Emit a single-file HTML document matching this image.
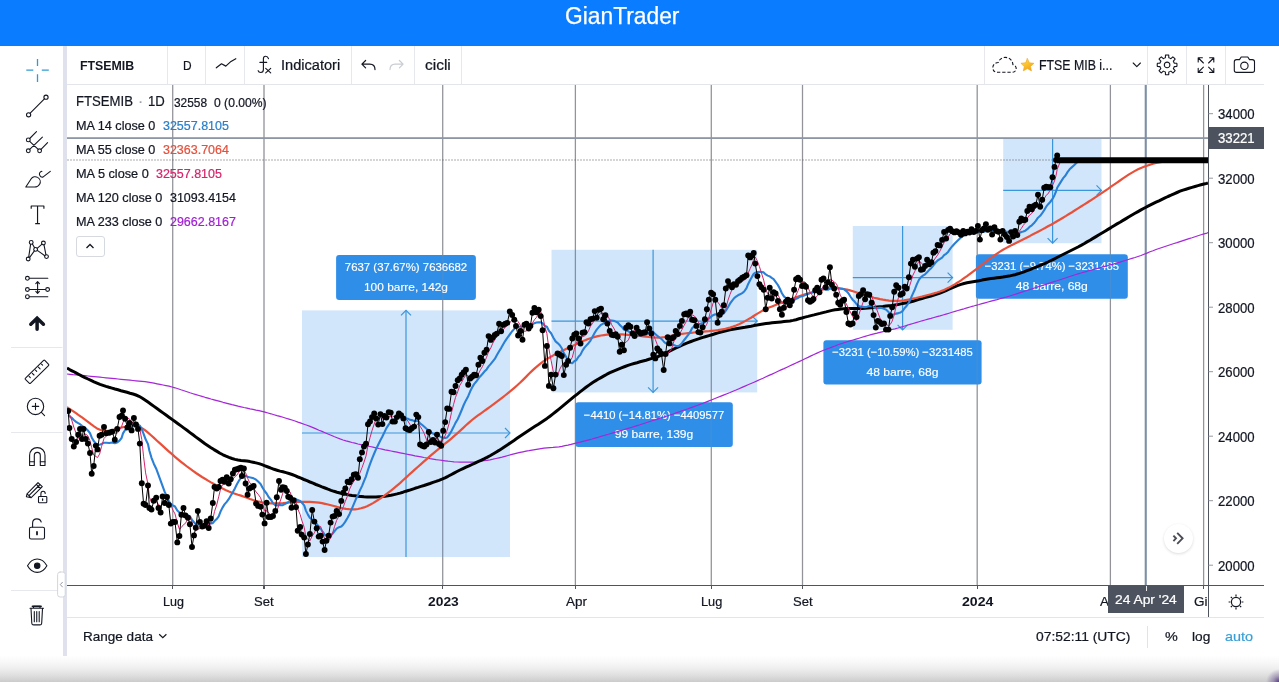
<!DOCTYPE html>
<html lang="it"><head><meta charset="utf-8"><title>GianTrader</title>
<style>
*{box-sizing:border-box;margin:0;padding:0}
html,body{width:1279px;height:682px;overflow:hidden;background:#fff}
body{position:relative;font-family:"Liberation Sans","DejaVu Sans",sans-serif;color:#131722}
.abs{position:absolute}
.t{position:absolute;white-space:nowrap;line-height:1;transform-origin:0 0;-webkit-text-stroke:0.22px currentColor}
#hdr{left:0;top:0;width:1279px;height:45.5px;background:#0a7cff}
#title{-webkit-text-stroke:0}
#sep{left:62.6px;top:45.5px;width:4.4px;height:610px;background:#dfe2ec}
.vsep{position:absolute;top:46px;width:1px;height:38px;background:#e6e8ee}
.hline{position:absolute;height:1px;background:#e3e5ea}
svg text.lb{font-family:"Liberation Sans",sans-serif;font-size:11.8px;fill:#fff;stroke:#fff;stroke-width:0.15px}
#bottomshade{left:0;top:650px;width:1279px;height:32px;background:radial-gradient(circle at 100% 100%,rgba(70,40,120,0.85) 0,rgba(70,40,120,0.35) 6px,rgba(70,40,120,0) 13px),linear-gradient(rgba(255,255,255,0) 0,rgba(255,255,255,0) 17%,#f8f8f8 38%,#ededed 60%,#dfdfdf 79%,#d3d3d3 92%,#cbcbcb 100%)}
</style></head><body>
<div id="hdr" class="abs"></div>
<div id="sep" class="abs"></div>
<svg id="chart" width="1279" height="682" viewBox="0 0 1279 682" style="position:absolute;left:0;top:0">
<defs><clipPath id="cp"><rect x="67" y="85" width="1141" height="500.5"/></clipPath></defs>
<g clip-path="url(#cp)">
<rect x="172.1" y="85" width="1.2" height="501" fill="#94969c"/>
<rect x="263.4" y="85" width="1.2" height="501" fill="#94969c"/>
<rect x="442.09999999999997" y="85" width="1.2" height="501" fill="#94969c"/>
<rect x="574.8" y="85" width="1.2" height="501" fill="#94969c"/>
<rect x="710.6999999999999" y="85" width="1.2" height="501" fill="#94969c"/>
<rect x="801.9" y="85" width="1.2" height="501" fill="#94969c"/>
<rect x="976.6" y="85" width="1.2" height="501" fill="#94969c"/>
<rect x="1109.8000000000002" y="85" width="1.2" height="501" fill="#94969c"/>
<rect x="1203.0" y="85" width="1.2" height="501" fill="#94969c"/>
<rect x="302" y="310.4" width="208" height="246.60000000000002" fill="rgba(40,140,235,0.215)"/>
<g stroke="#3a96dc" stroke-width="1.2" fill="none">
<path d="M406 310.4 V557"/>
<path d="M302 433 H510"/>
<path d="M401 315.4 L406 310.4 L411 315.4"/>
<path d="M505 428 L510 433 L505 438"/>
</g>
<rect x="551.5" y="249.8" width="205.70000000000005" height="142.59999999999997" fill="rgba(40,140,235,0.215)"/>
<g stroke="#3a96dc" stroke-width="1.2" fill="none">
<path d="M653.1 249.8 V392.4"/>
<path d="M551.5 321.1 H757.2"/>
<path d="M648.1 387.4 L653.1 392.4 L658.1 387.4"/>
<path d="M752.2 316.1 L757.2 321.1 L752.2 326.1"/>
</g>
<rect x="852.8" y="226" width="99.80000000000007" height="103.80000000000001" fill="rgba(40,140,235,0.215)"/>
<g stroke="#3a96dc" stroke-width="1.2" fill="none">
<path d="M902.6 226 V329.8"/>
<path d="M852.8 277.6 H952.6"/>
<path d="M897.6 324.8 L902.6 329.8 L907.6 324.8"/>
<path d="M947.6 272.6 L952.6 277.6 L947.6 282.6"/>
</g>
<rect x="1003.2" y="138.8" width="98.29999999999995" height="104.39999999999998" fill="rgba(40,140,235,0.215)"/>
<g stroke="#3a96dc" stroke-width="1.2" fill="none">
<path d="M1052.6 138.8 V243.2"/>
<path d="M1003.2 190.4 H1101.5"/>
<path d="M1047.6 238.2 L1052.6 243.2 L1057.6 238.2"/>
<path d="M1096.5 185.4 L1101.5 190.4 L1096.5 195.4"/>
</g>
<rect x="336.1" y="255" width="139.79999999999995" height="44.89999999999998" rx="3" fill="#2f8fe8"/>
<text x="406.0" y="271.2" text-anchor="middle" class="lb" textLength="122.4" lengthAdjust="spacingAndGlyphs">7637 (37.67%) 7636682</text>
<text x="406.0" y="291.1" text-anchor="middle" class="lb" textLength="84" lengthAdjust="spacingAndGlyphs">100 barre, 142g</text>
<rect x="575.3" y="402.3" width="157.5" height="44.599999999999966" rx="3" fill="#2f8fe8"/>
<text x="654.05" y="418.5" text-anchor="middle" class="lb" textLength="140.4" lengthAdjust="spacingAndGlyphs">−4410 (−14.81%) −4409577</text>
<text x="654.05" y="438.40000000000003" text-anchor="middle" class="lb" textLength="78.4" lengthAdjust="spacingAndGlyphs">99 barre, 139g</text>
<rect x="823.4" y="340.2" width="158.20000000000005" height="44.400000000000034" rx="3" fill="#2f8fe8"/>
<text x="902.5" y="356.4" text-anchor="middle" class="lb" textLength="140.6" lengthAdjust="spacingAndGlyphs">−3231 (−10.59%) −3231485</text>
<text x="902.5" y="376.3" text-anchor="middle" class="lb" textLength="72" lengthAdjust="spacingAndGlyphs">48 barre, 68g</text>
<rect x="975.9" y="254.2" width="151.89999999999998" height="44.60000000000002" rx="3" fill="#2f8fe8"/>
<text x="1051.85" y="270.4" text-anchor="middle" class="lb" textLength="134.2" lengthAdjust="spacingAndGlyphs">−3231 (−9.74%) −3231485</text>
<text x="1051.85" y="290.3" text-anchor="middle" class="lb" textLength="72" lengthAdjust="spacingAndGlyphs">48 barre, 68g</text>
<rect x="172.04999999999998" y="85" width="1.3" height="501" fill="#8d8f94" opacity="0.22"/>
<rect x="263.35" y="85" width="1.3" height="501" fill="#8d8f94" opacity="0.22"/>
<rect x="442.05" y="85" width="1.3" height="501" fill="#8d8f94" opacity="0.22"/>
<rect x="574.75" y="85" width="1.3" height="501" fill="#8d8f94" opacity="0.22"/>
<rect x="710.65" y="85" width="1.3" height="501" fill="#8d8f94" opacity="0.22"/>
<rect x="801.85" y="85" width="1.3" height="501" fill="#8d8f94" opacity="0.22"/>
<rect x="976.5500000000001" y="85" width="1.3" height="501" fill="#8d8f94" opacity="0.22"/>
<rect x="1109.75" y="85" width="1.3" height="501" fill="#8d8f94" opacity="0.22"/>
<rect x="1202.9499999999998" y="85" width="1.3" height="501" fill="#8d8f94" opacity="0.22"/>
<rect x="67" y="137.2" width="1141" height="1.8" fill="#8c96a5"/>
<rect x="1144.7" y="85" width="2.1" height="501" fill="#7d8ea6"/>
<path d="M67.5 160 H1057" stroke="#5a5a5a" stroke-width="1.2" stroke-dasharray="1 2" fill="none"/>
<path d="M67.0 374.0 L70.0 374.3 L73.0 374.6 L76.0 374.8 L79.0 375.1 L82.0 375.4 L85.0 375.7 L88.0 376.0 L91.0 376.3 L94.0 376.6 L97.0 376.9 L100.0 377.2 L103.0 377.5 L106.0 377.8 L109.0 378.1 L112.0 378.4 L115.0 378.7 L118.0 379.0 L121.0 379.3 L124.0 379.6 L127.0 379.9 L130.0 380.2 L133.0 380.5 L136.0 380.8 L139.0 381.1 L142.0 381.4 L145.0 381.7 L148.0 382.1 L151.0 382.6 L154.0 383.2 L157.0 383.8 L160.0 384.4 L163.0 385.0 L166.0 385.6 L169.0 386.2 L172.0 387.0 L175.0 387.8 L178.0 388.7 L181.0 389.8 L184.0 390.8 L187.0 391.8 L190.0 392.8 L193.0 393.7 L196.0 394.6 L199.0 395.5 L202.0 396.4 L205.0 397.3 L208.0 398.1 L211.0 399.0 L214.0 399.8 L217.0 400.6 L220.0 401.4 L223.0 402.3 L226.0 403.1 L229.0 403.9 L232.0 404.7 L235.0 405.4 L238.0 406.2 L241.0 406.8 L244.0 407.5 L247.0 408.1 L250.0 408.8 L253.0 409.4 L256.0 410.1 L259.0 410.7 L262.0 411.4 L265.0 412.2 L268.0 413.0 L271.0 413.8 L274.0 414.7 L277.0 415.6 L280.0 416.4 L283.0 417.3 L286.0 418.2 L289.0 419.1 L292.0 420.0 L295.0 421.0 L298.0 422.1 L301.0 423.1 L304.0 424.2 L307.0 425.3 L310.0 426.4 L313.0 427.6 L316.0 428.9 L319.0 430.2 L322.0 431.4 L325.0 432.7 L328.0 434.0 L331.0 435.2 L334.0 436.5 L337.0 437.7 L340.0 438.9 L343.0 440.0 L346.0 440.9 L349.0 441.7 L352.0 442.5 L355.0 443.2 L358.0 444.0 L361.0 444.7 L364.0 445.3 L367.0 445.9 L370.0 446.5 L373.0 447.1 L376.0 447.8 L379.0 448.5 L382.0 449.1 L385.0 449.8 L388.0 450.4 L391.0 451.0 L394.0 451.6 L397.0 452.2 L400.0 452.8 L403.0 453.4 L406.0 454.0 L409.0 454.6 L412.0 455.2 L415.0 455.8 L418.0 456.3 L421.0 456.9 L424.0 457.5 L427.0 458.0 L430.0 458.6 L433.0 459.1 L436.0 459.6 L439.0 460.0 L442.0 460.4 L445.0 460.8 L448.0 461.2 L451.0 461.5 L454.0 461.8 L457.0 462.0 L460.0 462.1 L463.0 462.1 L466.0 462.2 L469.0 462.2 L472.0 462.1 L475.0 461.9 L478.0 461.5 L481.0 461.1 L484.0 460.7 L487.0 460.3 L490.0 459.8 L493.0 459.2 L496.0 458.5 L499.0 457.8 L502.0 457.1 L505.0 456.3 L508.0 455.5 L511.0 454.7 L514.0 453.9 L517.0 453.1 L520.0 452.4 L523.0 451.8 L526.0 451.2 L529.0 450.7 L532.0 450.1 L535.0 449.6 L538.0 449.1 L541.0 448.6 L544.0 448.1 L547.0 447.8 L550.0 447.6 L553.0 447.4 L556.0 447.1 L559.0 446.8 L562.0 446.3 L565.0 445.7 L568.0 445.1 L571.0 444.4 L574.0 443.6 L577.0 442.9 L580.0 442.2 L583.0 441.4 L586.0 440.6 L589.0 439.8 L592.0 439.0 L595.0 438.1 L598.0 437.3 L601.0 436.4 L604.0 435.5 L607.0 434.7 L610.0 433.8 L613.0 432.9 L616.0 432.0 L619.0 431.1 L622.0 430.2 L625.0 429.3 L628.0 428.4 L631.0 427.5 L634.0 426.6 L637.0 425.6 L640.0 424.7 L643.0 423.7 L646.0 422.8 L649.0 421.8 L652.0 420.8 L655.0 419.9 L658.0 418.9 L661.0 417.9 L664.0 417.0 L667.0 416.0 L670.0 415.0 L673.0 414.0 L676.0 412.9 L679.0 411.9 L682.0 410.8 L685.0 409.7 L688.0 408.7 L691.0 407.6 L694.0 406.6 L697.0 405.5 L700.0 404.4 L703.0 403.3 L706.0 402.1 L709.0 400.9 L712.0 399.7 L715.0 398.5 L718.0 397.3 L721.0 396.1 L724.0 394.9 L727.0 393.7 L730.0 392.5 L733.0 391.2 L736.0 390.0 L739.0 388.7 L742.0 387.4 L745.0 386.1 L748.0 384.8 L751.0 383.5 L754.0 382.2 L757.0 380.9 L760.0 379.5 L763.0 378.2 L766.0 376.8 L769.0 375.4 L772.0 374.1 L775.0 372.7 L778.0 371.3 L781.0 369.9 L784.0 368.6 L787.0 367.2 L790.0 365.8 L793.0 364.4 L796.0 363.0 L799.0 361.6 L802.0 360.2 L805.0 358.8 L808.0 357.4 L811.0 355.9 L814.0 354.5 L817.0 353.1 L820.0 351.7 L823.0 350.5 L826.0 349.4 L829.0 348.2 L832.0 347.1 L835.0 346.0 L838.0 344.8 L841.0 343.8 L844.0 342.8 L847.0 341.8 L850.0 340.9 L853.0 340.0 L856.0 339.1 L859.0 338.2 L862.0 337.3 L865.0 336.4 L868.0 335.5 L871.0 334.6 L874.0 333.8 L877.0 333.1 L880.0 332.3 L883.0 331.6 L886.0 330.9 L889.0 330.2 L892.0 329.5 L895.0 328.8 L898.0 328.0 L901.0 327.1 L904.0 326.2 L907.0 325.3 L910.0 324.4 L913.0 323.5 L916.0 322.6 L919.0 321.7 L922.0 320.8 L925.0 320.0 L928.0 319.2 L931.0 318.4 L934.0 317.5 L937.0 316.7 L940.0 315.9 L943.0 315.0 L946.0 314.1 L949.0 313.2 L952.0 312.3 L955.0 311.4 L958.0 310.5 L961.0 309.6 L964.0 308.8 L967.0 307.9 L970.0 307.0 L973.0 306.2 L976.0 305.3 L979.0 304.5 L982.0 303.6 L985.0 302.8 L988.0 302.0 L991.0 301.2 L994.0 300.4 L997.0 299.6 L1000.0 298.7 L1003.0 297.9 L1006.0 297.1 L1009.0 296.2 L1012.0 295.3 L1015.0 294.4 L1018.0 293.4 L1021.0 292.4 L1024.0 291.4 L1027.0 290.5 L1030.0 289.5 L1033.0 288.5 L1036.0 287.5 L1039.0 286.5 L1042.0 285.5 L1045.0 284.6 L1048.0 283.6 L1051.0 282.6 L1054.0 281.6 L1057.0 280.7 L1060.0 279.7 L1063.0 278.7 L1066.0 277.8 L1069.0 276.8 L1072.0 275.8 L1075.0 274.8 L1078.0 273.9 L1081.0 273.0 L1084.0 272.1 L1087.0 271.3 L1090.0 270.4 L1093.0 269.6 L1096.0 268.8 L1099.0 268.0 L1102.0 267.1 L1105.0 266.3 L1108.0 265.5 L1111.0 264.6 L1114.0 263.8 L1117.0 262.9 L1120.0 262.1 L1123.0 261.1 L1126.0 260.2 L1129.0 259.3 L1132.0 258.4 L1135.0 257.5 L1138.0 256.5 L1141.0 255.5 L1144.0 254.3 L1147.0 253.1 L1150.0 251.8 L1153.0 250.7 L1156.0 249.5 L1159.0 248.5 L1162.0 247.5 L1165.0 246.5 L1168.0 245.5 L1171.0 244.5 L1174.0 243.5 L1177.0 242.6 L1180.0 241.6 L1183.0 240.6 L1186.0 239.6 L1189.0 238.6 L1192.0 237.7 L1195.0 236.7 L1198.0 235.7 L1201.0 234.8 L1204.0 233.9 L1207.0 233.1 L1208.0 232.5" stroke="#a526d8" stroke-width="1.2" fill="none" stroke-linejoin="round"/>
<path d="M67.0 368.0 L70.0 369.8 L73.0 371.3 L76.0 372.9 L79.0 374.5 L82.0 376.1 L85.0 377.6 L88.0 379.0 L91.0 380.4 L94.0 381.8 L97.0 383.1 L100.0 384.4 L103.0 385.4 L106.0 386.4 L109.0 387.3 L112.0 388.1 L115.0 389.0 L118.0 389.8 L121.0 390.7 L124.0 391.5 L127.0 392.3 L130.0 393.2 L133.0 394.0 L136.0 395.0 L139.0 396.3 L142.0 398.0 L145.0 400.0 L148.0 402.1 L151.0 404.2 L154.0 406.4 L157.0 408.5 L160.0 410.7 L163.0 412.9 L166.0 415.0 L169.0 417.2 L172.0 419.4 L175.0 421.5 L178.0 423.7 L181.0 425.9 L184.0 428.1 L187.0 430.3 L190.0 432.6 L193.0 434.8 L196.0 437.1 L199.0 439.3 L202.0 441.5 L205.0 443.7 L208.0 445.7 L211.0 447.7 L214.0 449.6 L217.0 451.4 L220.0 453.2 L223.0 454.8 L226.0 456.2 L229.0 457.4 L232.0 458.5 L235.0 459.4 L238.0 460.0 L241.0 460.4 L244.0 460.7 L247.0 461.1 L250.0 461.6 L253.0 462.2 L256.0 462.9 L259.0 463.6 L262.0 464.6 L265.0 465.8 L268.0 467.0 L271.0 468.2 L274.0 469.3 L277.0 470.2 L280.0 471.1 L283.0 471.8 L286.0 472.6 L289.0 473.5 L292.0 474.5 L295.0 475.7 L298.0 477.0 L301.0 478.2 L304.0 479.5 L307.0 480.7 L310.0 482.0 L313.0 483.2 L316.0 484.5 L319.0 485.7 L322.0 486.9 L325.0 488.0 L328.0 489.2 L331.0 490.3 L334.0 491.3 L337.0 492.2 L340.0 493.0 L343.0 493.7 L346.0 494.3 L349.0 494.9 L352.0 495.4 L355.0 495.8 L358.0 496.2 L361.0 496.5 L364.0 496.8 L367.0 496.9 L370.0 497.0 L373.0 497.0 L376.0 497.0 L379.0 496.8 L382.0 496.6 L385.0 496.3 L388.0 495.8 L391.0 495.3 L394.0 494.6 L397.0 493.9 L400.0 493.1 L403.0 492.2 L406.0 491.2 L409.0 490.3 L412.0 489.3 L415.0 488.3 L418.0 487.4 L421.0 486.4 L424.0 485.5 L427.0 484.5 L430.0 483.5 L433.0 482.4 L436.0 481.4 L439.0 480.3 L442.0 479.1 L445.0 477.8 L448.0 476.3 L451.0 474.7 L454.0 473.1 L457.0 471.5 L460.0 470.0 L463.0 468.6 L466.0 467.2 L469.0 465.9 L472.0 464.5 L475.0 463.1 L478.0 461.7 L481.0 460.3 L484.0 458.9 L487.0 457.4 L490.0 455.8 L493.0 454.0 L496.0 452.2 L499.0 450.4 L502.0 448.5 L505.0 446.5 L508.0 444.5 L511.0 442.4 L514.0 440.4 L517.0 438.3 L520.0 436.2 L523.0 434.2 L526.0 432.2 L529.0 430.2 L532.0 428.2 L535.0 426.3 L538.0 424.4 L541.0 422.4 L544.0 420.4 L547.0 418.4 L550.0 416.2 L553.0 413.9 L556.0 411.5 L559.0 409.1 L562.0 406.7 L565.0 404.2 L568.0 401.7 L571.0 399.2 L574.0 396.7 L577.0 394.3 L580.0 391.9 L583.0 389.6 L586.0 387.3 L589.0 385.1 L592.0 383.0 L595.0 381.1 L598.0 379.3 L601.0 377.6 L604.0 375.9 L607.0 374.2 L610.0 372.7 L613.0 371.3 L616.0 370.1 L619.0 368.9 L622.0 367.7 L625.0 366.5 L628.0 365.4 L631.0 364.4 L634.0 363.5 L637.0 362.7 L640.0 361.8 L643.0 361.0 L646.0 360.2 L649.0 359.3 L652.0 358.4 L655.0 357.5 L658.0 356.5 L661.0 355.3 L664.0 354.0 L667.0 352.5 L670.0 350.9 L673.0 349.4 L676.0 348.0 L679.0 346.6 L682.0 345.2 L685.0 343.9 L688.0 342.7 L691.0 341.5 L694.0 340.4 L697.0 339.3 L700.0 338.3 L703.0 337.4 L706.0 336.5 L709.0 335.6 L712.0 334.7 L715.0 333.8 L718.0 332.9 L721.0 332.0 L724.0 331.2 L727.0 330.5 L730.0 329.8 L733.0 329.3 L736.0 328.8 L739.0 328.3 L742.0 327.8 L745.0 327.3 L748.0 326.7 L751.0 326.2 L754.0 325.6 L757.0 325.1 L760.0 324.6 L763.0 324.1 L766.0 323.6 L769.0 323.2 L772.0 322.8 L775.0 322.5 L778.0 322.2 L781.0 321.9 L784.0 321.6 L787.0 321.3 L790.0 321.0 L793.0 320.4 L796.0 319.7 L799.0 318.8 L802.0 318.0 L805.0 317.1 L808.0 316.4 L811.0 315.6 L814.0 314.9 L817.0 314.1 L820.0 313.4 L823.0 312.6 L826.0 311.9 L829.0 311.1 L832.0 310.4 L835.0 309.8 L838.0 309.4 L841.0 309.0 L844.0 308.8 L847.0 308.6 L850.0 308.4 L853.0 308.4 L856.0 308.4 L859.0 308.4 L862.0 308.4 L865.0 308.2 L868.0 308.0 L871.0 307.8 L874.0 307.5 L877.0 307.1 L880.0 306.8 L883.0 306.5 L886.0 306.1 L889.0 305.7 L892.0 305.4 L895.0 304.9 L898.0 304.5 L901.0 303.9 L904.0 303.3 L907.0 302.7 L910.0 302.0 L913.0 301.2 L916.0 300.3 L919.0 299.4 L922.0 298.5 L925.0 297.6 L928.0 296.8 L931.0 296.0 L934.0 295.1 L937.0 294.1 L940.0 293.0 L943.0 291.8 L946.0 290.5 L949.0 289.2 L952.0 287.8 L955.0 286.6 L958.0 285.4 L961.0 284.4 L964.0 283.5 L967.0 282.8 L970.0 282.2 L973.0 281.7 L976.0 281.2 L979.0 280.7 L982.0 280.1 L985.0 279.6 L988.0 279.1 L991.0 278.6 L994.0 278.2 L997.0 277.8 L1000.0 277.4 L1003.0 277.0 L1006.0 276.5 L1009.0 276.1 L1012.0 275.4 L1015.0 274.7 L1018.0 273.8 L1021.0 272.8 L1024.0 271.8 L1027.0 270.7 L1030.0 269.6 L1033.0 268.4 L1036.0 267.2 L1039.0 265.9 L1042.0 264.7 L1045.0 263.4 L1048.0 262.0 L1051.0 260.5 L1054.0 259.1 L1057.0 257.5 L1060.0 256.0 L1063.0 254.5 L1066.0 253.0 L1069.0 251.5 L1072.0 250.0 L1075.0 248.5 L1078.0 247.0 L1081.0 245.4 L1084.0 243.7 L1087.0 241.9 L1090.0 240.2 L1093.0 238.4 L1096.0 236.6 L1099.0 234.8 L1102.0 233.0 L1105.0 231.2 L1108.0 229.4 L1111.0 227.6 L1114.0 225.7 L1117.0 223.9 L1120.0 222.2 L1123.0 220.4 L1126.0 218.6 L1129.0 216.8 L1132.0 215.0 L1135.0 213.3 L1138.0 211.6 L1141.0 209.9 L1144.0 208.3 L1147.0 206.7 L1150.0 205.2 L1153.0 203.7 L1156.0 202.2 L1159.0 200.8 L1162.0 199.3 L1165.0 197.9 L1168.0 196.5 L1171.0 195.2 L1174.0 193.8 L1177.0 192.5 L1180.0 191.2 L1183.0 190.1 L1186.0 189.2 L1189.0 188.3 L1192.0 187.4 L1195.0 186.5 L1198.0 185.6 L1201.0 184.8 L1204.0 184.0 L1207.0 183.4 L1208.0 182.8" stroke="#000" stroke-width="3.0" fill="none" stroke-linejoin="round"/>
<path d="M67.0 407.0 L70.0 409.3 L73.0 411.1 L76.0 413.2 L79.0 415.3 L82.0 417.4 L85.0 419.6 L88.0 421.8 L91.0 424.2 L94.0 426.4 L97.0 428.4 L100.0 429.8 L103.0 430.5 L106.0 430.8 L109.0 430.6 L112.0 430.2 L115.0 429.4 L118.0 428.4 L121.0 427.6 L124.0 427.0 L127.0 426.6 L130.0 426.4 L133.0 426.3 L136.0 426.5 L139.0 427.1 L142.0 428.3 L145.0 430.2 L148.0 432.6 L151.0 435.3 L154.0 437.9 L157.0 440.7 L160.0 443.4 L163.0 446.1 L166.0 448.9 L169.0 451.6 L172.0 454.2 L175.0 456.8 L178.0 459.3 L181.0 461.8 L184.0 464.2 L187.0 466.5 L190.0 468.7 L193.0 470.9 L196.0 473.0 L199.0 475.0 L202.0 477.0 L205.0 478.8 L208.0 480.6 L211.0 482.4 L214.0 484.0 L217.0 485.6 L220.0 487.2 L223.0 488.7 L226.0 490.2 L229.0 491.5 L232.0 492.7 L235.0 493.7 L238.0 494.7 L241.0 495.6 L244.0 496.7 L247.0 497.8 L250.0 499.0 L253.0 500.0 L256.0 500.9 L259.0 501.7 L262.0 502.3 L265.0 502.8 L268.0 503.2 L271.0 503.3 L274.0 503.4 L277.0 503.4 L280.0 503.3 L283.0 503.1 L286.0 502.8 L289.0 502.5 L292.0 502.3 L295.0 502.1 L298.0 502.0 L301.0 501.9 L304.0 501.8 L307.0 501.8 L310.0 501.9 L313.0 502.1 L316.0 502.3 L319.0 502.7 L322.0 503.2 L325.0 503.8 L328.0 504.5 L331.0 505.2 L334.0 506.0 L337.0 506.9 L340.0 507.7 L343.0 508.3 L346.0 508.8 L349.0 509.1 L352.0 509.3 L355.0 509.3 L358.0 509.0 L361.0 508.3 L364.0 507.4 L367.0 506.2 L370.0 504.7 L373.0 503.1 L376.0 501.3 L379.0 499.4 L382.0 497.4 L385.0 495.2 L388.0 492.9 L391.0 490.6 L394.0 488.2 L397.0 485.7 L400.0 483.1 L403.0 480.3 L406.0 477.6 L409.0 474.8 L412.0 472.1 L415.0 469.4 L418.0 466.7 L421.0 464.1 L424.0 461.4 L427.0 458.8 L430.0 456.2 L433.0 453.6 L436.0 451.1 L439.0 448.6 L442.0 446.1 L445.0 443.7 L448.0 441.3 L451.0 438.8 L454.0 436.2 L457.0 433.6 L460.0 430.9 L463.0 428.1 L466.0 425.3 L469.0 422.6 L472.0 420.0 L475.0 417.6 L478.0 415.4 L481.0 413.3 L484.0 411.2 L487.0 409.0 L490.0 406.8 L493.0 404.6 L496.0 402.4 L499.0 400.1 L502.0 397.8 L505.0 395.5 L508.0 393.1 L511.0 390.6 L514.0 388.1 L517.0 385.5 L520.0 382.8 L523.0 379.9 L526.0 376.9 L529.0 373.8 L532.0 370.9 L535.0 368.1 L538.0 365.6 L541.0 363.2 L544.0 361.0 L547.0 359.0 L550.0 357.2 L553.0 355.6 L556.0 354.1 L559.0 352.6 L562.0 351.1 L565.0 349.6 L568.0 348.1 L571.0 346.7 L574.0 345.2 L577.0 343.8 L580.0 342.4 L583.0 341.1 L586.0 339.9 L589.0 338.8 L592.0 337.8 L595.0 336.9 L598.0 336.1 L601.0 335.5 L604.0 335.1 L607.0 334.7 L610.0 334.5 L613.0 334.3 L616.0 334.3 L619.0 334.3 L622.0 334.4 L625.0 334.6 L628.0 334.8 L631.0 335.0 L634.0 335.3 L637.0 335.6 L640.0 336.0 L643.0 336.3 L646.0 336.6 L649.0 337.0 L652.0 337.3 L655.0 337.5 L658.0 337.6 L661.0 337.5 L664.0 337.1 L667.0 336.6 L670.0 336.0 L673.0 335.4 L676.0 334.9 L679.0 334.4 L682.0 333.9 L685.0 333.5 L688.0 333.1 L691.0 332.8 L694.0 332.5 L697.0 332.2 L700.0 331.9 L703.0 331.6 L706.0 331.3 L709.0 331.1 L712.0 330.8 L715.0 330.5 L718.0 330.2 L721.0 329.7 L724.0 329.2 L727.0 328.4 L730.0 327.6 L733.0 326.6 L736.0 325.5 L739.0 324.2 L742.0 322.7 L745.0 321.1 L748.0 319.4 L751.0 317.7 L754.0 315.8 L757.0 313.9 L760.0 312.1 L763.0 310.4 L766.0 308.9 L769.0 307.6 L772.0 306.4 L775.0 305.2 L778.0 304.0 L781.0 302.9 L784.0 301.7 L787.0 300.6 L790.0 299.5 L793.0 298.4 L796.0 297.3 L799.0 296.3 L802.0 295.3 L805.0 294.4 L808.0 293.6 L811.0 292.8 L814.0 291.9 L817.0 291.1 L820.0 290.3 L823.0 289.5 L826.0 288.9 L829.0 288.5 L832.0 288.2 L835.0 288.1 L838.0 288.2 L841.0 288.6 L844.0 289.0 L847.0 289.6 L850.0 290.4 L853.0 291.3 L856.0 292.2 L859.0 293.3 L862.0 294.3 L865.0 295.2 L868.0 296.1 L871.0 296.9 L874.0 297.7 L877.0 298.4 L880.0 299.1 L883.0 299.7 L886.0 300.2 L889.0 300.6 L892.0 300.8 L895.0 300.9 L898.0 300.8 L901.0 300.6 L904.0 300.3 L907.0 299.8 L910.0 299.3 L913.0 298.6 L916.0 298.0 L919.0 297.3 L922.0 296.6 L925.0 295.8 L928.0 295.0 L931.0 294.2 L934.0 293.4 L937.0 292.5 L940.0 291.5 L943.0 290.4 L946.0 289.0 L949.0 287.6 L952.0 285.9 L955.0 284.2 L958.0 282.3 L961.0 280.3 L964.0 278.2 L967.0 276.1 L970.0 273.8 L973.0 271.6 L976.0 269.3 L979.0 267.0 L982.0 264.7 L985.0 262.3 L988.0 260.0 L991.0 257.8 L994.0 255.6 L997.0 253.6 L1000.0 251.6 L1003.0 249.8 L1006.0 248.1 L1009.0 246.5 L1012.0 244.9 L1015.0 243.4 L1018.0 241.9 L1021.0 240.4 L1024.0 238.9 L1027.0 237.4 L1030.0 235.9 L1033.0 234.3 L1036.0 232.8 L1039.0 231.2 L1042.0 229.6 L1045.0 228.0 L1048.0 226.3 L1051.0 224.7 L1054.0 223.0 L1057.0 221.2 L1060.0 219.5 L1063.0 217.7 L1066.0 215.9 L1069.0 214.0 L1072.0 212.2 L1075.0 210.3 L1078.0 208.4 L1081.0 206.5 L1084.0 204.6 L1087.0 202.7 L1090.0 200.8 L1093.0 198.8 L1096.0 196.8 L1099.0 194.8 L1102.0 192.8 L1105.0 190.8 L1108.0 188.8 L1111.0 186.7 L1114.0 184.7 L1117.0 182.6 L1120.0 180.5 L1123.0 178.4 L1126.0 176.4 L1129.0 174.4 L1132.0 172.6 L1135.0 170.9 L1138.0 169.3 L1141.0 168.0 L1144.0 166.8 L1147.0 165.7 L1150.0 164.7 L1153.0 163.7 L1156.0 162.9 L1159.0 162.3 L1162.0 161.9 L1165.0 161.5" stroke="#e8503a" stroke-width="2.2" fill="none" stroke-linejoin="round"/>
<path d="M68.2 415.2 L69.4 416.1 L71.7 417.8 L73.8 420.0 L76.1 421.9 L78.2 423.2 L80.0 424.2 L82.0 425.9 L83.5 426.8 L85.8 428.5 L87.9 430.5 L90.0 433.2 L91.7 437.4 L93.7 441.0 L95.8 443.4 L97.5 445.0 L99.6 444.7 L101.6 443.9 L104.0 442.8 L106.3 442.7 L109.3 443.0 L112.2 442.5 L114.8 443.2 L117.2 442.5 L119.5 440.6 L121.6 438.0 L123.0 433.4 L125.1 430.0 L127.4 428.8 L129.5 426.9 L131.6 426.5 L133.9 425.3 L136.0 425.1 L138.0 424.8 L139.8 425.6 L141.8 429.3 L143.6 433.8 L145.6 439.3 L148.0 444.1 L149.4 450.7 L151.5 457.8 L153.8 463.7 L156.2 468.7 L158.5 474.8 L160.6 480.6 L162.6 486.2 L164.7 491.9 L167.0 496.7 L168.8 501.1 L170.8 504.0 L172.9 505.3 L175.0 506.5 L177.3 510.6 L179.4 512.6 L181.4 512.9 L183.5 513.5 L185.5 514.7 L187.9 515.4 L189.9 516.3 L192.0 519.9 L194.0 522.2 L195.8 524.4 L197.8 524.8 L199.9 524.7 L202.2 525.0 L204.3 525.3 L206.6 523.8 L208.7 523.2 L210.7 523.5 L212.8 523.1 L214.5 521.1 L216.7 519.0 L218.7 516.3 L220.5 511.6 L222.5 507.6 L224.5 504.4 L226.7 501.9 L228.7 499.2 L230.7 495.8 L232.9 492.1 L234.9 488.4 L236.9 484.2 L238.9 480.7 L240.9 478.1 L241.9 477.4 L243.9 475.9 L245.6 475.7 L247.6 476.7 L249.4 477.3 L251.6 477.7 L253.6 478.3 L256.1 479.7 L258.1 481.6 L260.6 484.0 L262.3 487.2 L264.6 491.0 L266.6 493.5 L268.6 497.0 L271.0 499.9 L273.0 503.3 L275.3 505.3 L276.8 505.5 L279.0 504.9 L281.0 505.1 L282.8 505.2 L284.8 504.1 L286.8 503.0 L288.2 502.3 L290.2 501.1 L291.5 500.0 L293.7 499.8 L296.0 499.1 L297.7 500.1 L300.2 500.9 L301.7 502.5 L304.2 505.4 L305.9 510.6 L307.9 514.6 L309.9 517.9 L312.2 519.5 L314.4 521.7 L316.7 523.9 L318.7 526.7 L320.7 528.7 L322.6 531.7 L324.6 534.7 L326.4 535.5 L328.6 536.1 L330.6 535.2 L332.6 533.7 L334.6 531.0 L336.6 528.6 L339.1 527.2 L341.3 526.5 L343.3 524.5 L345.3 521.6 L347.6 517.7 L349.6 513.9 L351.6 509.4 L353.8 504.1 L355.8 499.3 L358.0 495.2 L359.8 490.6 L362.0 486.1 L364.0 481.1 L366.0 476.3 L368.0 469.9 L370.0 464.2 L372.0 458.8 L374.2 453.5 L376.2 448.9 L378.2 444.8 L380.4 440.2 L382.4 436.5 L384.4 432.4 L386.4 428.1 L388.7 424.7 L390.7 421.9 L392.6 420.1 L394.9 418.5 L396.9 418.0 L398.9 417.4 L401.1 417.3 L403.4 417.6 L405.6 418.3 L407.9 418.7 L409.8 419.8 L411.8 420.1 L414.1 420.9 L416.3 420.7 L418.3 421.0 L420.1 423.3 L422.3 425.0 L424.3 426.8 L426.5 428.8 L428.8 430.1 L430.8 432.0 L433.0 433.6 L435.0 434.6 L437.0 434.9 L439.0 435.9 L441.2 437.2 L443.2 437.5 L445.2 438.0 L447.2 437.4 L449.2 434.9 L451.5 431.0 L453.5 427.1 L455.5 422.9 L457.7 419.2 L459.7 414.7 L461.7 410.0 L463.7 405.0 L465.9 400.4 L468.2 396.2 L470.2 391.3 L472.1 387.5 L474.1 384.1 L476.1 381.8 L478.4 378.6 L480.4 376.2 L482.4 374.0 L484.4 371.6 L486.6 369.4 L488.6 366.4 L490.8 363.9 L492.8 361.4 L494.8 358.9 L496.8 355.3 L499.1 351.3 L501.1 348.1 L503.1 344.5 L505.3 340.8 L507.3 337.8 L509.8 334.5 L512.2 331.2 L514.3 328.9 L516.0 327.2 L518.1 327.1 L520.5 326.5 L522.5 326.7 L524.5 326.0 L526.4 325.2 L528.7 325.6 L530.4 325.2 L532.4 324.4 L534.4 323.2 L536.4 322.5 L538.7 322.3 L540.7 322.4 L542.6 323.2 L544.9 326.0 L546.9 326.8 L548.9 330.7 L551.1 333.2 L553.4 337.7 L555.6 341.4 L557.6 343.1 L559.8 345.2 L561.8 348.3 L563.8 353.1 L566.1 356.8 L568.1 360.5 L570.1 362.7 L572.3 363.3 L574.3 361.1 L576.3 360.2 L578.5 356.8 L580.5 354.6 L582.5 350.6 L584.5 347.6 L586.5 345.4 L588.5 343.2 L590.5 340.5 L592.7 336.5 L594.7 332.7 L596.7 329.6 L599.0 326.9 L601.0 324.8 L603.2 323.6 L605.4 322.3 L607.4 321.3 L609.7 320.4 L611.7 320.5 L613.7 320.7 L615.7 321.6 L617.7 322.5 L619.7 324.9 L621.7 326.7 L623.9 329.5 L626.1 330.2 L628.4 331.3 L630.4 332.6 L632.6 333.7 L634.6 335.1 L636.6 335.4 L638.6 335.5 L640.8 335.4 L643.1 335.2 L645.1 335.1 L647.1 334.0 L649.3 332.4 L651.3 331.6 L653.3 331.9 L655.3 334.1 L657.3 335.7 L659.5 337.5 L661.4 338.9 L663.7 341.4 L665.6 343.2 L667.7 343.6 L669.5 344.3 L671.7 344.7 L673.7 345.1 L675.7 345.7 L677.9 346.1 L679.9 345.5 L681.9 343.1 L684.2 340.0 L686.2 337.5 L688.2 334.9 L690.2 331.9 L692.1 328.3 L694.4 325.9 L696.4 325.0 L698.4 324.2 L700.4 323.8 L702.6 323.1 L704.9 322.3 L706.9 320.5 L708.8 318.6 L711.1 316.6 L713.1 315.2 L715.3 314.2 L717.6 314.8 L719.8 315.0 L721.8 314.4 L723.8 313.4 L725.8 310.7 L728.0 307.1 L730.0 303.7 L732.0 300.8 L734.0 298.3 L736.0 296.6 L738.0 295.3 L740.0 294.3 L742.2 293.1 L744.2 291.5 L746.5 288.1 L748.2 283.9 L750.2 280.0 L752.2 276.4 L753.7 273.9 L755.2 272.7 L757.4 272.0 L759.4 271.8 L761.4 272.0 L763.7 272.4 L765.7 274.4 L767.7 275.6 L769.7 276.4 L771.7 277.9 L773.6 279.1 L775.6 281.8 L777.9 285.0 L779.9 288.8 L781.9 293.2 L783.9 296.4 L785.9 298.2 L787.8 299.3 L789.8 300.6 L791.8 301.4 L794.1 300.0 L796.1 298.7 L798.1 298.0 L800.1 296.6 L802.1 296.2 L804.1 295.6 L806.0 294.6 L808.0 293.9 L810.0 293.0 L812.0 292.5 L813.5 292.3 L815.2 291.6 L817.2 290.4 L819.5 289.7 L821.5 289.0 L823.5 289.0 L825.7 289.6 L827.9 289.8 L829.9 288.5 L831.9 288.4 L834.2 288.6 L836.2 288.2 L838.2 288.2 L840.2 288.5 L842.1 288.7 L844.1 289.3 L846.4 291.1 L848.4 293.3 L850.4 296.5 L852.6 299.7 L854.6 301.6 L856.6 304.1 L858.8 306.1 L860.8 306.8 L863.1 306.9 L865.1 307.3 L867.1 306.7 L869.3 305.9 L871.6 306.1 L873.6 307.2 L875.8 308.3 L877.8 308.1 L879.8 307.9 L881.8 308.0 L884.0 308.7 L886.0 309.6 L888.5 312.0 L890.2 313.5 L892.2 314.7 L894.2 314.2 L896.2 313.6 L898.5 313.1 L900.5 312.5 L902.7 310.9 L904.7 308.0 L906.7 305.7 L908.9 302.5 L910.9 298.2 L912.9 293.6 L914.9 289.2 L916.9 284.1 L918.9 279.9 L920.9 277.2 L922.9 275.6 L925.1 274.3 L927.1 272.3 L929.1 270.1 L931.4 267.9 L933.4 265.4 L935.4 262.8 L937.6 260.5 L939.8 259.2 L942.1 257.7 L944.1 255.2 L946.1 253.8 L948.1 251.9 L950.1 248.9 L952.3 246.2 L954.5 243.8 L956.5 241.8 L958.8 239.5 L961.0 237.5 L963.2 235.9 L965.2 234.7 L967.5 233.7 L969.5 232.8 L971.5 232.1 L973.7 232.1 L975.7 231.5 L977.9 231.2 L979.9 232.0 L981.9 232.0 L983.9 231.7 L985.9 231.2 L987.9 231.0 L990.2 230.5 L992.1 230.8 L994.4 230.3 L996.4 230.3 L998.4 230.2 L1000.4 231.0 L1002.6 230.9 L1004.9 231.1 L1006.9 231.9 L1009.1 232.0 L1011.1 232.2 L1013.1 232.8 L1015.1 233.2 L1017.3 233.6 L1019.3 233.1 L1021.3 232.0 L1023.3 231.5 L1025.3 230.7 L1027.3 229.2 L1029.5 226.9 L1031.8 225.3 L1033.8 223.3 L1035.8 220.9 L1038.0 217.7 L1040.2 215.8 L1042.2 213.2 L1044.2 210.1 L1046.2 206.7 L1048.2 204.2 L1050.2 202.0 L1052.5 198.9 L1054.5 195.2 L1056.0 191.5 L1057.2 187.8 L1059.3 184.4 L1061.3 181.1 L1063.4 177.9 L1065.5 175.5 L1067.5 172.1 L1069.6 169.3 L1071.7 167.4 L1073.8 165.5 L1075.8 163.5 L1077.9 161.6 L1080.0 160.4 L1082.0 159.9 L1084.1 159.9 L1086.2 160.3 L1088.2 160.3 L1090.3 160.3 L1092.4 160.3 L1094.5 160.3 L1096.5 160.3 L1098.6 160.3 L1100.7 160.3 L1102.7 160.3 L1104.8 160.3 L1106.9 160.3 L1108.9 160.3 L1111.0 160.3 L1113.1 160.3 L1115.2 160.3 L1117.2 160.3 L1119.3 160.3 L1121.4 160.3 L1123.4 160.3 L1125.5 160.3 L1127.6 160.3 L1129.6 160.3 L1131.7 160.3 L1133.8 160.3 L1135.9 160.3 L1137.9 160.3 L1140.0 160.3 L1142.1 160.3 L1144.1 160.3 L1146.2 160.3 L1148.3 160.3 L1150.3 160.3 L1152.4 160.3 L1154.5 160.3 L1156.6 160.3 L1158.6 160.3 L1160.7 160.3 L1162.8 160.3 L1164.8 160.3 L1166.9 160.3 L1169.0 160.3 L1171.0 160.3 L1173.1 160.3 L1175.2 160.3 L1177.3 160.3 L1179.3 160.3 L1181.4 160.3 L1183.5 160.3 L1185.5 160.3 L1187.6 160.3 L1189.7 160.3 L1191.7 160.3 L1193.8 160.3 L1195.9 160.3 L1198.0 160.3 L1200.0 160.3 L1202.1 160.3 L1204.2 160.3 L1206.2 160.3 L1208.3 160.3" stroke="#2a7fd6" stroke-width="2.1" fill="none" stroke-linejoin="round"/>
<path d="M68.2 411.0 L69.4 414.4 L71.7 420.0 L73.8 427.1 L76.1 433.3 L78.2 438.1 L80.0 438.3 L82.0 438.3 L83.5 434.8 L85.8 434.2 L87.9 435.9 L90.0 440.7 L91.7 447.7 L93.7 455.1 L95.8 456.4 L97.5 457.6 L99.6 454.1 L101.6 446.3 L104.0 438.5 L106.3 436.0 L109.3 432.7 L112.2 431.9 L114.8 432.9 L117.2 433.3 L119.5 430.0 L121.6 426.6 L123.0 422.4 L125.1 418.1 L127.4 417.8 L129.5 419.0 L131.6 422.0 L133.9 423.5 L136.0 424.7 L138.0 425.0 L139.8 429.1 L141.8 439.6 L143.6 456.8 L145.6 472.9 L148.0 484.2 L149.4 497.1 L151.5 502.4 L153.8 501.8 L156.2 500.3 L158.5 504.8 L160.6 505.7 L162.6 503.1 L164.7 503.5 L167.0 503.4 L168.8 502.8 L170.8 505.0 L172.9 510.1 L175.0 513.9 L177.3 523.0 L179.4 529.2 L181.4 527.4 L183.5 524.6 L185.5 523.3 L187.9 518.4 L189.9 516.0 L192.0 522.5 L194.0 528.0 L195.8 530.4 L197.8 529.1 L199.9 528.6 L202.2 524.5 L204.3 522.6 L206.6 521.3 L208.7 524.7 L210.7 524.0 L212.8 519.3 L214.5 511.5 L216.7 505.0 L218.7 496.8 L220.5 489.3 L222.5 484.7 L224.5 483.6 L226.7 481.4 L228.7 480.7 L230.7 480.3 L232.9 479.1 L234.9 476.7 L236.9 475.1 L238.9 472.1 L240.9 469.8 L241.9 470.3 L243.9 470.0 L245.6 472.9 L247.6 478.1 L249.4 482.2 L251.6 484.5 L253.6 488.0 L256.1 492.0 L258.1 494.2 L260.6 497.8 L262.3 503.3 L264.6 510.8 L266.6 510.7 L268.6 512.9 L271.0 514.9 L273.0 515.2 L275.3 512.7 L276.8 511.6 L279.0 504.4 L281.0 498.9 L282.8 493.2 L284.8 488.6 L286.8 487.3 L288.2 490.5 L290.2 492.1 L291.5 496.2 L293.7 498.7 L296.0 501.9 L297.7 508.7 L300.2 514.6 L301.7 520.0 L304.2 527.4 L305.9 536.8 L307.9 539.5 L309.9 540.9 L312.2 536.0 L314.4 532.8 L316.7 527.7 L318.7 526.1 L320.7 526.5 L322.6 532.8 L324.6 538.5 L326.4 541.0 L328.6 540.8 L330.6 538.2 L332.6 533.2 L334.6 526.3 L336.6 520.4 L339.1 516.0 L341.3 511.7 L343.3 506.9 L345.3 501.4 L347.6 495.6 L349.6 489.2 L351.6 484.9 L353.8 481.3 L355.8 478.5 L358.0 477.7 L359.8 473.1 L362.0 467.7 L364.0 462.1 L366.0 456.0 L368.0 445.3 L370.0 437.7 L372.0 430.6 L374.2 424.0 L376.2 418.9 L378.2 419.0 L380.4 417.5 L382.4 418.9 L384.4 419.4 L386.4 419.3 L388.7 416.8 L390.7 416.5 L392.6 416.0 L394.9 417.1 L396.9 417.0 L398.9 417.3 L401.1 417.8 L403.4 417.1 L405.6 418.5 L407.9 421.0 L409.8 424.3 L411.8 426.9 L414.1 428.6 L416.3 425.8 L418.3 423.3 L420.1 426.2 L422.3 429.7 L424.3 433.7 L426.5 439.7 L428.8 442.7 L430.8 442.2 L433.0 441.0 L435.0 440.2 L437.0 438.2 L439.0 440.6 L441.2 441.4 L443.2 439.5 L445.2 435.5 L447.2 430.2 L449.2 423.2 L451.5 412.4 L453.5 404.7 L455.5 397.4 L457.7 391.8 L459.7 385.7 L461.7 382.3 L463.7 378.4 L465.9 375.1 L468.2 376.0 L470.2 376.0 L472.1 376.4 L474.1 376.9 L476.1 378.0 L478.4 374.0 L480.4 369.9 L482.4 366.7 L484.4 362.3 L486.6 357.2 L488.6 351.5 L490.8 347.9 L492.8 343.2 L494.8 339.6 L496.8 336.4 L499.1 333.9 L501.1 332.2 L503.1 329.7 L505.3 327.4 L507.3 325.3 L509.8 322.8 L512.2 319.6 L514.3 318.6 L516.0 319.0 L518.1 321.6 L520.5 325.5 L522.5 330.4 L524.5 331.4 L526.4 330.9 L528.7 329.5 L530.4 328.5 L532.4 323.1 L534.4 319.8 L536.4 317.5 L538.7 313.8 L540.7 311.8 L542.6 315.3 L544.9 326.9 L546.9 333.6 L548.9 348.8 L551.1 360.5 L553.4 372.1 L555.6 373.9 L557.6 375.4 L559.8 369.1 L561.8 365.4 L563.8 362.8 L566.1 360.8 L568.1 362.3 L570.1 360.9 L572.3 357.4 L574.3 349.3 L576.3 343.1 L578.5 338.6 L580.5 337.8 L582.5 336.6 L584.5 336.1 L586.5 333.9 L588.5 330.9 L590.5 326.1 L592.7 323.2 L594.7 319.0 L596.7 318.1 L599.0 315.3 L601.0 313.2 L603.2 313.3 L605.4 314.2 L607.4 315.3 L609.7 319.6 L611.7 324.8 L613.7 328.0 L615.7 331.8 L617.7 334.4 L619.7 338.6 L621.7 340.6 L623.9 343.5 L626.1 342.2 L628.4 339.9 L630.4 335.0 L632.6 332.7 L634.6 329.9 L636.6 329.9 L638.6 331.2 L640.8 332.5 L643.1 332.4 L645.1 331.6 L647.1 330.5 L649.3 329.9 L651.3 329.9 L653.3 334.3 L655.3 339.5 L657.3 344.7 L659.5 349.2 L661.4 353.3 L663.7 356.3 L665.6 355.5 L667.7 353.2 L669.5 351.7 L671.7 348.6 L673.7 342.0 L675.7 337.4 L677.9 336.8 L679.9 333.3 L681.9 329.8 L684.2 325.2 L686.2 321.7 L688.2 317.8 L690.2 315.0 L692.1 314.8 L694.4 316.0 L696.4 318.4 L698.4 321.9 L700.4 326.1 L702.6 327.6 L704.9 327.4 L706.9 324.1 L708.8 317.6 L711.1 309.6 L713.1 303.1 L715.3 299.2 L717.6 301.9 L719.8 304.9 L721.8 308.6 L723.8 310.8 L725.8 308.6 L728.0 300.2 L730.0 294.4 L732.0 289.5 L734.0 285.3 L736.0 284.6 L738.0 284.6 L740.0 283.5 L742.2 281.6 L744.2 280.1 L746.5 278.2 L748.2 273.0 L750.2 268.5 L752.2 264.1 L753.7 259.3 L755.2 256.9 L757.4 261.1 L759.4 266.5 L761.4 272.8 L763.7 280.2 L765.7 289.3 L767.7 293.7 L769.7 294.4 L771.7 296.6 L773.6 297.1 L775.6 294.0 L777.9 294.6 L779.9 298.9 L781.9 302.1 L783.9 305.2 L785.9 306.9 L787.8 306.6 L789.8 305.8 L791.8 303.1 L794.1 299.5 L796.1 295.0 L798.1 290.6 L800.1 285.5 L802.1 282.5 L804.1 281.6 L806.0 283.1 L808.0 287.6 L810.0 292.0 L812.0 294.9 L813.5 297.6 L815.2 298.3 L817.2 295.8 L819.5 293.9 L821.5 289.8 L823.5 285.7 L825.7 285.1 L827.9 284.0 L829.9 279.0 L831.9 280.0 L834.2 282.0 L836.2 283.5 L838.2 287.6 L840.2 295.1 L842.1 298.3 L844.1 300.5 L846.4 304.0 L848.4 308.2 L850.4 312.1 L852.6 316.6 L854.6 319.4 L856.6 320.4 L858.8 314.9 L860.8 308.8 L863.1 302.2 L865.1 299.3 L867.1 294.8 L869.3 294.5 L871.6 296.2 L873.6 301.2 L875.8 306.9 L877.8 312.2 L879.8 317.7 L881.8 322.0 L884.0 323.6 L886.0 324.0 L888.5 325.8 L890.2 324.5 L892.2 321.1 L894.2 314.8 L896.2 305.9 L898.5 297.5 L900.5 293.3 L902.7 290.6 L904.7 289.6 L906.7 290.2 L908.9 288.1 L910.9 281.9 L912.9 275.2 L914.9 271.2 L916.9 265.2 L918.9 261.2 L920.9 262.5 L922.9 264.4 L925.1 264.2 L927.1 264.4 L929.1 265.8 L931.4 264.3 L933.4 261.0 L935.4 258.1 L937.6 255.1 L939.8 251.3 L942.1 246.8 L944.1 242.6 L946.1 240.1 L948.1 237.1 L950.1 233.8 L952.3 232.1 L954.5 232.2 L956.5 230.7 L958.8 231.2 L961.0 232.4 L963.2 232.3 L965.2 232.5 L967.5 232.6 L969.5 232.7 L971.5 231.6 L973.7 231.8 L975.7 231.3 L977.9 230.1 L979.9 231.5 L981.9 231.7 L983.9 231.0 L985.9 229.7 L987.9 230.4 L990.2 228.2 L992.1 229.1 L994.4 228.8 L996.4 230.2 L998.4 230.6 L1000.4 232.8 L1002.6 232.1 L1004.9 233.5 L1006.9 234.8 L1009.1 236.6 L1011.1 235.1 L1013.1 236.3 L1015.1 235.5 L1017.3 235.1 L1019.3 231.3 L1021.3 228.5 L1023.3 225.3 L1025.3 223.0 L1027.3 218.2 L1029.5 215.2 L1031.8 213.4 L1033.8 210.5 L1035.8 207.5 L1038.0 204.3 L1040.2 204.3 L1042.2 202.4 L1044.2 198.8 L1046.2 195.2 L1048.2 193.7 L1050.2 189.8 L1052.5 185.3 L1054.5 181.1 L1056.0 175.7 L1057.2 169.4 L1059.3 164.0 L1061.3 160.6 L1063.4 159.2 L1065.5 159.3 L1067.5 160.3 L1069.6 160.3 L1071.7 160.3 L1073.8 160.3 L1075.8 160.3 L1077.9 160.3 L1080.0 160.3 L1082.0 160.3 L1084.1 160.3 L1086.2 160.3 L1088.2 160.3 L1090.3 160.3 L1092.4 160.3 L1094.5 160.3 L1096.5 160.3 L1098.6 160.3 L1100.7 160.3 L1102.7 160.3 L1104.8 160.3 L1106.9 160.3 L1108.9 160.3 L1111.0 160.3 L1113.1 160.3 L1115.2 160.3 L1117.2 160.3 L1119.3 160.3 L1121.4 160.3 L1123.4 160.3 L1125.5 160.3 L1127.6 160.3 L1129.6 160.3 L1131.7 160.3 L1133.8 160.3 L1135.9 160.3 L1137.9 160.3 L1140.0 160.3 L1142.1 160.3 L1144.1 160.3 L1146.2 160.3 L1148.3 160.3 L1150.3 160.3 L1152.4 160.3 L1154.5 160.3 L1156.6 160.3 L1158.6 160.3 L1160.7 160.3 L1162.8 160.3 L1164.8 160.3 L1166.9 160.3 L1169.0 160.3 L1171.0 160.3 L1173.1 160.3 L1175.2 160.3 L1177.3 160.3 L1179.3 160.3 L1181.4 160.3 L1183.5 160.3 L1185.5 160.3 L1187.6 160.3 L1189.7 160.3 L1191.7 160.3 L1193.8 160.3 L1195.9 160.3 L1198.0 160.3 L1200.0 160.3 L1202.1 160.3 L1204.2 160.3 L1206.2 160.3 L1208.3 160.3" stroke="#d6246c" stroke-width="1" fill="none" stroke-linejoin="round"/>
<path d="M68.2 411.0 L69.4 428.0 L71.7 439.0 L73.8 446.5 L76.1 442.0 L78.2 434.8 L80.0 429.0 L82.0 439.0 L83.5 429.0 L85.8 439.0 L87.9 443.6 L90.0 453.0 L91.7 473.8 L93.7 466.0 L95.8 445.6 L97.5 449.4 L99.6 435.7 L101.6 434.8 L104.0 426.9 L106.3 433.3 L109.3 432.7 L112.2 431.8 L114.8 439.8 L117.2 428.9 L119.5 417.0 L121.6 415.7 L123.0 410.4 L125.1 418.7 L127.4 427.4 L129.5 423.0 L131.6 430.4 L133.9 418.0 L136.0 424.5 L138.0 428.9 L139.8 443.6 L141.8 483.2 L143.6 503.7 L145.6 505.0 L148.0 485.5 L149.4 508.0 L151.5 509.6 L153.8 500.8 L156.2 497.8 L158.5 508.0 L160.6 512.5 L162.6 496.4 L164.7 503.0 L167.0 497.0 L168.8 505.0 L170.8 523.6 L172.9 521.9 L175.0 522.0 L177.3 542.4 L179.4 536.0 L181.4 514.8 L183.5 508.0 L185.5 515.4 L187.9 517.8 L189.9 524.2 L192.0 547.0 L194.0 535.4 L195.8 527.7 L197.8 511.0 L199.9 521.9 L202.2 526.6 L204.3 525.7 L206.6 521.3 L208.7 528.0 L210.7 518.4 L212.8 503.0 L214.5 487.0 L216.7 488.5 L218.7 487.0 L220.5 481.0 L222.5 479.8 L224.5 481.7 L226.7 477.3 L228.7 483.5 L230.7 479.3 L232.9 473.5 L234.9 469.8 L236.9 469.3 L238.9 468.5 L240.9 467.8 L241.9 476.0 L243.9 468.5 L245.6 483.5 L247.6 494.7 L249.4 488.5 L251.6 487.2 L253.6 486.0 L256.1 503.4 L258.1 505.9 L260.6 506.7 L262.3 514.6 L264.6 523.4 L266.6 502.7 L268.6 517.0 L271.0 517.0 L273.0 515.9 L275.3 510.9 L276.8 497.2 L279.0 481.0 L281.0 489.7 L282.8 487.2 L284.8 487.7 L286.8 491.0 L288.2 496.7 L290.2 497.7 L291.5 507.7 L293.7 500.2 L296.0 507.2 L297.7 530.8 L300.2 527.0 L301.7 534.6 L304.2 537.6 L305.9 554.0 L307.9 544.5 L309.9 534.0 L312.2 510.0 L314.4 521.6 L316.7 528.3 L318.7 536.6 L320.7 535.8 L322.6 541.6 L324.6 550.0 L326.4 540.8 L328.6 535.8 L330.6 522.6 L332.6 516.6 L334.6 515.9 L336.6 510.9 L339.1 514.1 L341.3 500.9 L343.3 492.7 L345.3 488.5 L347.6 481.7 L349.6 482.2 L351.6 479.3 L353.8 474.8 L355.8 474.3 L358.0 477.8 L359.8 459.3 L362.0 452.4 L364.0 446.5 L366.0 443.8 L368.0 424.3 L370.0 421.4 L372.0 417.1 L374.2 413.4 L376.2 418.4 L378.2 424.6 L380.4 414.1 L382.4 424.1 L384.4 415.9 L386.4 417.6 L388.7 412.1 L390.7 412.6 L392.6 421.6 L394.9 421.6 L396.9 417.1 L398.9 413.4 L401.1 415.1 L403.4 418.4 L405.6 428.3 L407.9 429.6 L409.8 430.0 L411.8 428.3 L414.1 426.6 L416.3 414.6 L418.3 417.1 L420.1 444.5 L422.3 445.8 L424.3 446.5 L426.5 444.5 L428.8 432.0 L430.8 442.0 L433.0 440.0 L435.0 442.5 L437.0 434.6 L439.0 444.0 L441.2 445.8 L443.2 430.8 L445.2 422.1 L447.2 408.4 L449.2 408.9 L451.5 391.7 L453.5 392.2 L455.5 386.0 L457.7 380.2 L459.7 378.5 L461.7 374.8 L463.7 372.3 L465.9 369.8 L468.2 384.7 L470.2 378.5 L472.1 376.8 L474.1 374.8 L476.1 375.3 L478.4 364.8 L480.4 357.8 L482.4 361.0 L484.4 352.8 L486.6 349.8 L488.6 336.1 L490.8 339.9 L492.8 337.4 L494.8 334.9 L496.8 333.6 L499.1 323.7 L501.1 331.2 L503.1 324.9 L505.3 323.7 L507.3 322.9 L509.8 311.5 L512.2 315.0 L514.3 319.8 L516.0 326.0 L518.1 335.5 L520.5 331.0 L522.5 339.8 L524.5 324.8 L526.4 323.6 L528.7 328.5 L530.4 326.0 L532.4 312.8 L534.4 307.9 L536.4 312.3 L538.7 309.8 L540.7 316.1 L542.6 330.3 L544.9 365.9 L546.9 346.0 L548.9 385.9 L551.1 374.6 L553.4 388.3 L555.6 374.6 L557.6 353.5 L559.8 354.7 L561.8 356.0 L563.8 375.1 L566.1 364.7 L568.1 360.9 L570.1 347.7 L572.3 338.5 L574.3 334.8 L576.3 333.5 L578.5 338.5 L580.5 343.5 L582.5 332.8 L584.5 332.3 L586.5 322.3 L588.5 323.6 L590.5 319.3 L592.7 318.6 L594.7 311.1 L596.7 317.8 L599.0 309.8 L601.0 308.6 L603.2 319.3 L605.4 315.3 L607.4 323.6 L609.7 331.0 L611.7 334.8 L613.7 335.3 L615.7 334.3 L617.7 336.8 L619.7 351.7 L621.7 344.7 L623.9 350.2 L626.1 327.8 L628.4 325.3 L630.4 326.8 L632.6 333.5 L634.6 336.0 L636.6 327.8 L638.6 331.8 L640.8 333.5 L643.1 332.8 L645.1 332.3 L647.1 322.3 L649.3 328.5 L651.3 333.5 L653.3 354.7 L655.3 358.4 L657.3 348.5 L659.5 351.0 L661.4 353.8 L663.7 370.0 L665.6 354.0 L667.7 337.2 L669.5 343.4 L671.7 338.4 L673.7 337.1 L675.7 330.9 L677.9 334.1 L679.9 325.9 L681.9 320.9 L684.2 314.2 L686.2 313.5 L688.2 314.7 L690.2 311.7 L692.1 319.7 L694.4 320.2 L696.4 325.9 L698.4 332.1 L700.4 332.6 L702.6 327.2 L704.9 319.2 L706.9 309.2 L708.8 299.8 L711.1 292.8 L713.1 294.3 L715.3 299.8 L717.6 322.7 L719.8 314.7 L721.8 311.7 L723.8 305.2 L725.8 288.5 L728.0 281.1 L730.0 285.3 L732.0 287.3 L734.0 284.3 L736.0 284.8 L738.0 281.1 L740.0 279.8 L742.2 277.8 L744.2 276.8 L746.5 275.3 L748.2 255.4 L750.2 257.4 L752.2 255.4 L753.7 252.9 L755.2 263.6 L757.4 276.1 L759.4 284.3 L761.4 287.3 L763.7 289.8 L765.7 309.2 L767.7 297.8 L769.7 287.8 L771.7 298.5 L773.6 292.3 L775.6 293.5 L777.9 301.0 L779.9 309.2 L781.9 314.7 L783.9 307.7 L785.9 301.7 L787.8 299.8 L789.8 305.2 L791.8 301.0 L794.1 289.8 L796.1 279.3 L798.1 277.8 L800.1 279.8 L802.1 286.0 L804.1 285.3 L806.0 286.8 L808.0 300.2 L810.0 301.7 L812.0 300.5 L813.5 299.0 L815.2 290.2 L817.2 287.7 L819.5 292.2 L821.5 279.8 L823.5 278.5 L825.7 287.2 L827.9 282.2 L829.9 267.3 L831.9 284.7 L834.2 288.5 L836.2 294.7 L838.2 302.7 L840.2 304.7 L842.1 300.9 L844.1 299.7 L846.4 312.1 L848.4 323.4 L850.4 324.6 L852.6 323.4 L854.6 313.4 L856.6 317.1 L858.8 296.0 L860.8 294.2 L863.1 290.2 L865.1 299.2 L867.1 294.2 L869.3 294.7 L871.6 302.7 L873.6 315.1 L875.8 327.6 L877.8 320.9 L879.8 322.1 L881.8 324.1 L884.0 323.4 L886.0 329.6 L888.5 329.6 L890.2 315.9 L892.2 307.2 L894.2 291.7 L896.2 285.2 L898.5 287.7 L900.5 294.7 L902.7 293.5 L904.7 286.7 L906.7 288.5 L908.9 277.3 L910.9 263.6 L912.9 259.8 L914.9 266.8 L916.9 258.6 L918.9 257.3 L920.9 269.8 L922.9 269.3 L925.1 266.0 L927.1 259.8 L929.1 264.3 L931.4 262.3 L933.4 252.8 L935.4 251.1 L937.6 244.9 L939.8 245.4 L942.1 239.9 L944.1 231.9 L946.1 238.6 L948.1 229.9 L950.1 228.7 L952.3 231.2 L954.5 232.4 L956.5 231.2 L958.8 232.4 L961.0 234.8 L963.2 230.9 L965.2 233.4 L967.5 231.7 L969.5 232.6 L971.5 229.2 L973.7 232.1 L975.7 230.9 L977.9 225.9 L979.9 239.6 L981.9 230.2 L983.9 228.4 L985.9 224.2 L987.9 229.7 L990.2 228.4 L992.1 234.6 L994.4 227.2 L996.4 230.9 L998.4 231.7 L1000.4 239.6 L1002.6 230.9 L1004.9 234.6 L1006.9 237.1 L1009.1 240.9 L1011.1 232.1 L1013.1 236.6 L1015.1 230.9 L1017.3 235.1 L1019.3 221.7 L1021.3 218.4 L1023.3 220.2 L1025.3 219.7 L1027.3 211.0 L1029.5 206.7 L1031.8 209.2 L1033.8 206.0 L1035.8 204.7 L1038.0 194.8 L1040.2 206.7 L1042.2 199.8 L1044.2 187.8 L1046.2 186.8 L1048.2 187.3 L1050.2 187.3 L1052.5 177.3 L1054.5 166.9 L1056.0 159.9 L1057.2 155.4" stroke="#000" stroke-width="1" fill="none" stroke-linejoin="round"/>
<g fill="#000">
<circle cx="68.2" cy="411.0" r="2.95"/>
<circle cx="69.4" cy="428.0" r="2.95"/>
<circle cx="71.7" cy="439.0" r="2.95"/>
<circle cx="73.8" cy="446.5" r="2.95"/>
<circle cx="76.1" cy="442.0" r="2.95"/>
<circle cx="78.2" cy="434.8" r="2.95"/>
<circle cx="80.0" cy="429.0" r="2.95"/>
<circle cx="82.0" cy="439.0" r="2.95"/>
<circle cx="83.5" cy="429.0" r="2.95"/>
<circle cx="85.8" cy="439.0" r="2.95"/>
<circle cx="87.9" cy="443.6" r="2.95"/>
<circle cx="90.0" cy="453.0" r="2.95"/>
<circle cx="91.7" cy="473.8" r="2.95"/>
<circle cx="93.7" cy="466.0" r="2.95"/>
<circle cx="95.8" cy="445.6" r="2.95"/>
<circle cx="97.5" cy="449.4" r="2.95"/>
<circle cx="99.6" cy="435.7" r="2.95"/>
<circle cx="101.6" cy="434.8" r="2.95"/>
<circle cx="104.0" cy="426.9" r="2.95"/>
<circle cx="106.3" cy="433.3" r="2.95"/>
<circle cx="109.3" cy="432.7" r="2.95"/>
<circle cx="112.2" cy="431.8" r="2.95"/>
<circle cx="114.8" cy="439.8" r="2.95"/>
<circle cx="117.2" cy="428.9" r="2.95"/>
<circle cx="119.5" cy="417.0" r="2.95"/>
<circle cx="121.6" cy="415.7" r="2.95"/>
<circle cx="123.0" cy="410.4" r="2.95"/>
<circle cx="125.1" cy="418.7" r="2.95"/>
<circle cx="127.4" cy="427.4" r="2.95"/>
<circle cx="129.5" cy="423.0" r="2.95"/>
<circle cx="131.6" cy="430.4" r="2.95"/>
<circle cx="133.9" cy="418.0" r="2.95"/>
<circle cx="136.0" cy="424.5" r="2.95"/>
<circle cx="138.0" cy="428.9" r="2.95"/>
<circle cx="139.8" cy="443.6" r="2.95"/>
<circle cx="141.8" cy="483.2" r="2.95"/>
<circle cx="143.6" cy="503.7" r="2.95"/>
<circle cx="145.6" cy="505.0" r="2.95"/>
<circle cx="148.0" cy="485.5" r="2.95"/>
<circle cx="149.4" cy="508.0" r="2.95"/>
<circle cx="151.5" cy="509.6" r="2.95"/>
<circle cx="153.8" cy="500.8" r="2.95"/>
<circle cx="156.2" cy="497.8" r="2.95"/>
<circle cx="158.5" cy="508.0" r="2.95"/>
<circle cx="160.6" cy="512.5" r="2.95"/>
<circle cx="162.6" cy="496.4" r="2.95"/>
<circle cx="164.7" cy="503.0" r="2.95"/>
<circle cx="167.0" cy="497.0" r="2.95"/>
<circle cx="168.8" cy="505.0" r="2.95"/>
<circle cx="170.8" cy="523.6" r="2.95"/>
<circle cx="172.9" cy="521.9" r="2.95"/>
<circle cx="175.0" cy="522.0" r="2.95"/>
<circle cx="177.3" cy="542.4" r="2.95"/>
<circle cx="179.4" cy="536.0" r="2.95"/>
<circle cx="181.4" cy="514.8" r="2.95"/>
<circle cx="183.5" cy="508.0" r="2.95"/>
<circle cx="185.5" cy="515.4" r="2.95"/>
<circle cx="187.9" cy="517.8" r="2.95"/>
<circle cx="189.9" cy="524.2" r="2.95"/>
<circle cx="192.0" cy="547.0" r="2.95"/>
<circle cx="194.0" cy="535.4" r="2.95"/>
<circle cx="195.8" cy="527.7" r="2.95"/>
<circle cx="197.8" cy="511.0" r="2.95"/>
<circle cx="199.9" cy="521.9" r="2.95"/>
<circle cx="202.2" cy="526.6" r="2.95"/>
<circle cx="204.3" cy="525.7" r="2.95"/>
<circle cx="206.6" cy="521.3" r="2.95"/>
<circle cx="208.7" cy="528.0" r="2.95"/>
<circle cx="210.7" cy="518.4" r="2.95"/>
<circle cx="212.8" cy="503.0" r="2.95"/>
<circle cx="214.5" cy="487.0" r="2.95"/>
<circle cx="216.7" cy="488.5" r="2.95"/>
<circle cx="218.7" cy="487.0" r="2.95"/>
<circle cx="220.5" cy="481.0" r="2.95"/>
<circle cx="222.5" cy="479.8" r="2.95"/>
<circle cx="224.5" cy="481.7" r="2.95"/>
<circle cx="226.7" cy="477.3" r="2.95"/>
<circle cx="228.7" cy="483.5" r="2.95"/>
<circle cx="230.7" cy="479.3" r="2.95"/>
<circle cx="232.9" cy="473.5" r="2.95"/>
<circle cx="234.9" cy="469.8" r="2.95"/>
<circle cx="236.9" cy="469.3" r="2.95"/>
<circle cx="238.9" cy="468.5" r="2.95"/>
<circle cx="240.9" cy="467.8" r="2.95"/>
<circle cx="241.9" cy="476.0" r="2.95"/>
<circle cx="243.9" cy="468.5" r="2.95"/>
<circle cx="245.6" cy="483.5" r="2.95"/>
<circle cx="247.6" cy="494.7" r="2.95"/>
<circle cx="249.4" cy="488.5" r="2.95"/>
<circle cx="251.6" cy="487.2" r="2.95"/>
<circle cx="253.6" cy="486.0" r="2.95"/>
<circle cx="256.1" cy="503.4" r="2.95"/>
<circle cx="258.1" cy="505.9" r="2.95"/>
<circle cx="260.6" cy="506.7" r="2.95"/>
<circle cx="262.3" cy="514.6" r="2.95"/>
<circle cx="264.6" cy="523.4" r="2.95"/>
<circle cx="266.6" cy="502.7" r="2.95"/>
<circle cx="268.6" cy="517.0" r="2.95"/>
<circle cx="271.0" cy="517.0" r="2.95"/>
<circle cx="273.0" cy="515.9" r="2.95"/>
<circle cx="275.3" cy="510.9" r="2.95"/>
<circle cx="276.8" cy="497.2" r="2.95"/>
<circle cx="279.0" cy="481.0" r="2.95"/>
<circle cx="281.0" cy="489.7" r="2.95"/>
<circle cx="282.8" cy="487.2" r="2.95"/>
<circle cx="284.8" cy="487.7" r="2.95"/>
<circle cx="286.8" cy="491.0" r="2.95"/>
<circle cx="288.2" cy="496.7" r="2.95"/>
<circle cx="290.2" cy="497.7" r="2.95"/>
<circle cx="291.5" cy="507.7" r="2.95"/>
<circle cx="293.7" cy="500.2" r="2.95"/>
<circle cx="296.0" cy="507.2" r="2.95"/>
<circle cx="297.7" cy="530.8" r="2.95"/>
<circle cx="300.2" cy="527.0" r="2.95"/>
<circle cx="301.7" cy="534.6" r="2.95"/>
<circle cx="304.2" cy="537.6" r="2.95"/>
<circle cx="305.9" cy="554.0" r="2.95"/>
<circle cx="307.9" cy="544.5" r="2.95"/>
<circle cx="309.9" cy="534.0" r="2.95"/>
<circle cx="312.2" cy="510.0" r="2.95"/>
<circle cx="314.4" cy="521.6" r="2.95"/>
<circle cx="316.7" cy="528.3" r="2.95"/>
<circle cx="318.7" cy="536.6" r="2.95"/>
<circle cx="320.7" cy="535.8" r="2.95"/>
<circle cx="322.6" cy="541.6" r="2.95"/>
<circle cx="324.6" cy="550.0" r="2.95"/>
<circle cx="326.4" cy="540.8" r="2.95"/>
<circle cx="328.6" cy="535.8" r="2.95"/>
<circle cx="330.6" cy="522.6" r="2.95"/>
<circle cx="332.6" cy="516.6" r="2.95"/>
<circle cx="334.6" cy="515.9" r="2.95"/>
<circle cx="336.6" cy="510.9" r="2.95"/>
<circle cx="339.1" cy="514.1" r="2.95"/>
<circle cx="341.3" cy="500.9" r="2.95"/>
<circle cx="343.3" cy="492.7" r="2.95"/>
<circle cx="345.3" cy="488.5" r="2.95"/>
<circle cx="347.6" cy="481.7" r="2.95"/>
<circle cx="349.6" cy="482.2" r="2.95"/>
<circle cx="351.6" cy="479.3" r="2.95"/>
<circle cx="353.8" cy="474.8" r="2.95"/>
<circle cx="355.8" cy="474.3" r="2.95"/>
<circle cx="358.0" cy="477.8" r="2.95"/>
<circle cx="359.8" cy="459.3" r="2.95"/>
<circle cx="362.0" cy="452.4" r="2.95"/>
<circle cx="364.0" cy="446.5" r="2.95"/>
<circle cx="366.0" cy="443.8" r="2.95"/>
<circle cx="368.0" cy="424.3" r="2.95"/>
<circle cx="370.0" cy="421.4" r="2.95"/>
<circle cx="372.0" cy="417.1" r="2.95"/>
<circle cx="374.2" cy="413.4" r="2.95"/>
<circle cx="376.2" cy="418.4" r="2.95"/>
<circle cx="378.2" cy="424.6" r="2.95"/>
<circle cx="380.4" cy="414.1" r="2.95"/>
<circle cx="382.4" cy="424.1" r="2.95"/>
<circle cx="384.4" cy="415.9" r="2.95"/>
<circle cx="386.4" cy="417.6" r="2.95"/>
<circle cx="388.7" cy="412.1" r="2.95"/>
<circle cx="390.7" cy="412.6" r="2.95"/>
<circle cx="392.6" cy="421.6" r="2.95"/>
<circle cx="394.9" cy="421.6" r="2.95"/>
<circle cx="396.9" cy="417.1" r="2.95"/>
<circle cx="398.9" cy="413.4" r="2.95"/>
<circle cx="401.1" cy="415.1" r="2.95"/>
<circle cx="403.4" cy="418.4" r="2.95"/>
<circle cx="405.6" cy="428.3" r="2.95"/>
<circle cx="407.9" cy="429.6" r="2.95"/>
<circle cx="409.8" cy="430.0" r="2.95"/>
<circle cx="411.8" cy="428.3" r="2.95"/>
<circle cx="414.1" cy="426.6" r="2.95"/>
<circle cx="416.3" cy="414.6" r="2.95"/>
<circle cx="418.3" cy="417.1" r="2.95"/>
<circle cx="420.1" cy="444.5" r="2.95"/>
<circle cx="422.3" cy="445.8" r="2.95"/>
<circle cx="424.3" cy="446.5" r="2.95"/>
<circle cx="426.5" cy="444.5" r="2.95"/>
<circle cx="428.8" cy="432.0" r="2.95"/>
<circle cx="430.8" cy="442.0" r="2.95"/>
<circle cx="433.0" cy="440.0" r="2.95"/>
<circle cx="435.0" cy="442.5" r="2.95"/>
<circle cx="437.0" cy="434.6" r="2.95"/>
<circle cx="439.0" cy="444.0" r="2.95"/>
<circle cx="441.2" cy="445.8" r="2.95"/>
<circle cx="443.2" cy="430.8" r="2.95"/>
<circle cx="445.2" cy="422.1" r="2.95"/>
<circle cx="447.2" cy="408.4" r="2.95"/>
<circle cx="449.2" cy="408.9" r="2.95"/>
<circle cx="451.5" cy="391.7" r="2.95"/>
<circle cx="453.5" cy="392.2" r="2.95"/>
<circle cx="455.5" cy="386.0" r="2.95"/>
<circle cx="457.7" cy="380.2" r="2.95"/>
<circle cx="459.7" cy="378.5" r="2.95"/>
<circle cx="461.7" cy="374.8" r="2.95"/>
<circle cx="463.7" cy="372.3" r="2.95"/>
<circle cx="465.9" cy="369.8" r="2.95"/>
<circle cx="468.2" cy="384.7" r="2.95"/>
<circle cx="470.2" cy="378.5" r="2.95"/>
<circle cx="472.1" cy="376.8" r="2.95"/>
<circle cx="474.1" cy="374.8" r="2.95"/>
<circle cx="476.1" cy="375.3" r="2.95"/>
<circle cx="478.4" cy="364.8" r="2.95"/>
<circle cx="480.4" cy="357.8" r="2.95"/>
<circle cx="482.4" cy="361.0" r="2.95"/>
<circle cx="484.4" cy="352.8" r="2.95"/>
<circle cx="486.6" cy="349.8" r="2.95"/>
<circle cx="488.6" cy="336.1" r="2.95"/>
<circle cx="490.8" cy="339.9" r="2.95"/>
<circle cx="492.8" cy="337.4" r="2.95"/>
<circle cx="494.8" cy="334.9" r="2.95"/>
<circle cx="496.8" cy="333.6" r="2.95"/>
<circle cx="499.1" cy="323.7" r="2.95"/>
<circle cx="501.1" cy="331.2" r="2.95"/>
<circle cx="503.1" cy="324.9" r="2.95"/>
<circle cx="505.3" cy="323.7" r="2.95"/>
<circle cx="507.3" cy="322.9" r="2.95"/>
<circle cx="509.8" cy="311.5" r="2.95"/>
<circle cx="512.2" cy="315.0" r="2.95"/>
<circle cx="514.3" cy="319.8" r="2.95"/>
<circle cx="516.0" cy="326.0" r="2.95"/>
<circle cx="518.1" cy="335.5" r="2.95"/>
<circle cx="520.5" cy="331.0" r="2.95"/>
<circle cx="522.5" cy="339.8" r="2.95"/>
<circle cx="524.5" cy="324.8" r="2.95"/>
<circle cx="526.4" cy="323.6" r="2.95"/>
<circle cx="528.7" cy="328.5" r="2.95"/>
<circle cx="530.4" cy="326.0" r="2.95"/>
<circle cx="532.4" cy="312.8" r="2.95"/>
<circle cx="534.4" cy="307.9" r="2.95"/>
<circle cx="536.4" cy="312.3" r="2.95"/>
<circle cx="538.7" cy="309.8" r="2.95"/>
<circle cx="540.7" cy="316.1" r="2.95"/>
<circle cx="542.6" cy="330.3" r="2.95"/>
<circle cx="544.9" cy="365.9" r="2.95"/>
<circle cx="546.9" cy="346.0" r="2.95"/>
<circle cx="548.9" cy="385.9" r="2.95"/>
<circle cx="551.1" cy="374.6" r="2.95"/>
<circle cx="553.4" cy="388.3" r="2.95"/>
<circle cx="555.6" cy="374.6" r="2.95"/>
<circle cx="557.6" cy="353.5" r="2.95"/>
<circle cx="559.8" cy="354.7" r="2.95"/>
<circle cx="561.8" cy="356.0" r="2.95"/>
<circle cx="563.8" cy="375.1" r="2.95"/>
<circle cx="566.1" cy="364.7" r="2.95"/>
<circle cx="568.1" cy="360.9" r="2.95"/>
<circle cx="570.1" cy="347.7" r="2.95"/>
<circle cx="572.3" cy="338.5" r="2.95"/>
<circle cx="574.3" cy="334.8" r="2.95"/>
<circle cx="576.3" cy="333.5" r="2.95"/>
<circle cx="578.5" cy="338.5" r="2.95"/>
<circle cx="580.5" cy="343.5" r="2.95"/>
<circle cx="582.5" cy="332.8" r="2.95"/>
<circle cx="584.5" cy="332.3" r="2.95"/>
<circle cx="586.5" cy="322.3" r="2.95"/>
<circle cx="588.5" cy="323.6" r="2.95"/>
<circle cx="590.5" cy="319.3" r="2.95"/>
<circle cx="592.7" cy="318.6" r="2.95"/>
<circle cx="594.7" cy="311.1" r="2.95"/>
<circle cx="596.7" cy="317.8" r="2.95"/>
<circle cx="599.0" cy="309.8" r="2.95"/>
<circle cx="601.0" cy="308.6" r="2.95"/>
<circle cx="603.2" cy="319.3" r="2.95"/>
<circle cx="605.4" cy="315.3" r="2.95"/>
<circle cx="607.4" cy="323.6" r="2.95"/>
<circle cx="609.7" cy="331.0" r="2.95"/>
<circle cx="611.7" cy="334.8" r="2.95"/>
<circle cx="613.7" cy="335.3" r="2.95"/>
<circle cx="615.7" cy="334.3" r="2.95"/>
<circle cx="617.7" cy="336.8" r="2.95"/>
<circle cx="619.7" cy="351.7" r="2.95"/>
<circle cx="621.7" cy="344.7" r="2.95"/>
<circle cx="623.9" cy="350.2" r="2.95"/>
<circle cx="626.1" cy="327.8" r="2.95"/>
<circle cx="628.4" cy="325.3" r="2.95"/>
<circle cx="630.4" cy="326.8" r="2.95"/>
<circle cx="632.6" cy="333.5" r="2.95"/>
<circle cx="634.6" cy="336.0" r="2.95"/>
<circle cx="636.6" cy="327.8" r="2.95"/>
<circle cx="638.6" cy="331.8" r="2.95"/>
<circle cx="640.8" cy="333.5" r="2.95"/>
<circle cx="643.1" cy="332.8" r="2.95"/>
<circle cx="645.1" cy="332.3" r="2.95"/>
<circle cx="647.1" cy="322.3" r="2.95"/>
<circle cx="649.3" cy="328.5" r="2.95"/>
<circle cx="651.3" cy="333.5" r="2.95"/>
<circle cx="653.3" cy="354.7" r="2.95"/>
<circle cx="655.3" cy="358.4" r="2.95"/>
<circle cx="657.3" cy="348.5" r="2.95"/>
<circle cx="659.5" cy="351.0" r="2.95"/>
<circle cx="661.4" cy="353.8" r="2.95"/>
<circle cx="663.7" cy="370.0" r="2.95"/>
<circle cx="665.6" cy="354.0" r="2.95"/>
<circle cx="667.7" cy="337.2" r="2.95"/>
<circle cx="669.5" cy="343.4" r="2.95"/>
<circle cx="671.7" cy="338.4" r="2.95"/>
<circle cx="673.7" cy="337.1" r="2.95"/>
<circle cx="675.7" cy="330.9" r="2.95"/>
<circle cx="677.9" cy="334.1" r="2.95"/>
<circle cx="679.9" cy="325.9" r="2.95"/>
<circle cx="681.9" cy="320.9" r="2.95"/>
<circle cx="684.2" cy="314.2" r="2.95"/>
<circle cx="686.2" cy="313.5" r="2.95"/>
<circle cx="688.2" cy="314.7" r="2.95"/>
<circle cx="690.2" cy="311.7" r="2.95"/>
<circle cx="692.1" cy="319.7" r="2.95"/>
<circle cx="694.4" cy="320.2" r="2.95"/>
<circle cx="696.4" cy="325.9" r="2.95"/>
<circle cx="698.4" cy="332.1" r="2.95"/>
<circle cx="700.4" cy="332.6" r="2.95"/>
<circle cx="702.6" cy="327.2" r="2.95"/>
<circle cx="704.9" cy="319.2" r="2.95"/>
<circle cx="706.9" cy="309.2" r="2.95"/>
<circle cx="708.8" cy="299.8" r="2.95"/>
<circle cx="711.1" cy="292.8" r="2.95"/>
<circle cx="713.1" cy="294.3" r="2.95"/>
<circle cx="715.3" cy="299.8" r="2.95"/>
<circle cx="717.6" cy="322.7" r="2.95"/>
<circle cx="719.8" cy="314.7" r="2.95"/>
<circle cx="721.8" cy="311.7" r="2.95"/>
<circle cx="723.8" cy="305.2" r="2.95"/>
<circle cx="725.8" cy="288.5" r="2.95"/>
<circle cx="728.0" cy="281.1" r="2.95"/>
<circle cx="730.0" cy="285.3" r="2.95"/>
<circle cx="732.0" cy="287.3" r="2.95"/>
<circle cx="734.0" cy="284.3" r="2.95"/>
<circle cx="736.0" cy="284.8" r="2.95"/>
<circle cx="738.0" cy="281.1" r="2.95"/>
<circle cx="740.0" cy="279.8" r="2.95"/>
<circle cx="742.2" cy="277.8" r="2.95"/>
<circle cx="744.2" cy="276.8" r="2.95"/>
<circle cx="746.5" cy="275.3" r="2.95"/>
<circle cx="748.2" cy="255.4" r="2.95"/>
<circle cx="750.2" cy="257.4" r="2.95"/>
<circle cx="752.2" cy="255.4" r="2.95"/>
<circle cx="753.7" cy="252.9" r="2.95"/>
<circle cx="755.2" cy="263.6" r="2.95"/>
<circle cx="757.4" cy="276.1" r="2.95"/>
<circle cx="759.4" cy="284.3" r="2.95"/>
<circle cx="761.4" cy="287.3" r="2.95"/>
<circle cx="763.7" cy="289.8" r="2.95"/>
<circle cx="765.7" cy="309.2" r="2.95"/>
<circle cx="767.7" cy="297.8" r="2.95"/>
<circle cx="769.7" cy="287.8" r="2.95"/>
<circle cx="771.7" cy="298.5" r="2.95"/>
<circle cx="773.6" cy="292.3" r="2.95"/>
<circle cx="775.6" cy="293.5" r="2.95"/>
<circle cx="777.9" cy="301.0" r="2.95"/>
<circle cx="779.9" cy="309.2" r="2.95"/>
<circle cx="781.9" cy="314.7" r="2.95"/>
<circle cx="783.9" cy="307.7" r="2.95"/>
<circle cx="785.9" cy="301.7" r="2.95"/>
<circle cx="787.8" cy="299.8" r="2.95"/>
<circle cx="789.8" cy="305.2" r="2.95"/>
<circle cx="791.8" cy="301.0" r="2.95"/>
<circle cx="794.1" cy="289.8" r="2.95"/>
<circle cx="796.1" cy="279.3" r="2.95"/>
<circle cx="798.1" cy="277.8" r="2.95"/>
<circle cx="800.1" cy="279.8" r="2.95"/>
<circle cx="802.1" cy="286.0" r="2.95"/>
<circle cx="804.1" cy="285.3" r="2.95"/>
<circle cx="806.0" cy="286.8" r="2.95"/>
<circle cx="808.0" cy="300.2" r="2.95"/>
<circle cx="810.0" cy="301.7" r="2.95"/>
<circle cx="812.0" cy="300.5" r="2.95"/>
<circle cx="813.5" cy="299.0" r="2.95"/>
<circle cx="815.2" cy="290.2" r="2.95"/>
<circle cx="817.2" cy="287.7" r="2.95"/>
<circle cx="819.5" cy="292.2" r="2.95"/>
<circle cx="821.5" cy="279.8" r="2.95"/>
<circle cx="823.5" cy="278.5" r="2.95"/>
<circle cx="825.7" cy="287.2" r="2.95"/>
<circle cx="827.9" cy="282.2" r="2.95"/>
<circle cx="829.9" cy="267.3" r="2.95"/>
<circle cx="831.9" cy="284.7" r="2.95"/>
<circle cx="834.2" cy="288.5" r="2.95"/>
<circle cx="836.2" cy="294.7" r="2.95"/>
<circle cx="838.2" cy="302.7" r="2.95"/>
<circle cx="840.2" cy="304.7" r="2.95"/>
<circle cx="842.1" cy="300.9" r="2.95"/>
<circle cx="844.1" cy="299.7" r="2.95"/>
<circle cx="846.4" cy="312.1" r="2.95"/>
<circle cx="848.4" cy="323.4" r="2.95"/>
<circle cx="850.4" cy="324.6" r="2.95"/>
<circle cx="852.6" cy="323.4" r="2.95"/>
<circle cx="854.6" cy="313.4" r="2.95"/>
<circle cx="856.6" cy="317.1" r="2.95"/>
<circle cx="858.8" cy="296.0" r="2.95"/>
<circle cx="860.8" cy="294.2" r="2.95"/>
<circle cx="863.1" cy="290.2" r="2.95"/>
<circle cx="865.1" cy="299.2" r="2.95"/>
<circle cx="867.1" cy="294.2" r="2.95"/>
<circle cx="869.3" cy="294.7" r="2.95"/>
<circle cx="871.6" cy="302.7" r="2.95"/>
<circle cx="873.6" cy="315.1" r="2.95"/>
<circle cx="875.8" cy="327.6" r="2.95"/>
<circle cx="877.8" cy="320.9" r="2.95"/>
<circle cx="879.8" cy="322.1" r="2.95"/>
<circle cx="881.8" cy="324.1" r="2.95"/>
<circle cx="884.0" cy="323.4" r="2.95"/>
<circle cx="886.0" cy="329.6" r="2.95"/>
<circle cx="888.5" cy="329.6" r="2.95"/>
<circle cx="890.2" cy="315.9" r="2.95"/>
<circle cx="892.2" cy="307.2" r="2.95"/>
<circle cx="894.2" cy="291.7" r="2.95"/>
<circle cx="896.2" cy="285.2" r="2.95"/>
<circle cx="898.5" cy="287.7" r="2.95"/>
<circle cx="900.5" cy="294.7" r="2.95"/>
<circle cx="902.7" cy="293.5" r="2.95"/>
<circle cx="904.7" cy="286.7" r="2.95"/>
<circle cx="906.7" cy="288.5" r="2.95"/>
<circle cx="908.9" cy="277.3" r="2.95"/>
<circle cx="910.9" cy="263.6" r="2.95"/>
<circle cx="912.9" cy="259.8" r="2.95"/>
<circle cx="914.9" cy="266.8" r="2.95"/>
<circle cx="916.9" cy="258.6" r="2.95"/>
<circle cx="918.9" cy="257.3" r="2.95"/>
<circle cx="920.9" cy="269.8" r="2.95"/>
<circle cx="922.9" cy="269.3" r="2.95"/>
<circle cx="925.1" cy="266.0" r="2.95"/>
<circle cx="927.1" cy="259.8" r="2.95"/>
<circle cx="929.1" cy="264.3" r="2.95"/>
<circle cx="931.4" cy="262.3" r="2.95"/>
<circle cx="933.4" cy="252.8" r="2.95"/>
<circle cx="935.4" cy="251.1" r="2.95"/>
<circle cx="937.6" cy="244.9" r="2.95"/>
<circle cx="939.8" cy="245.4" r="2.95"/>
<circle cx="942.1" cy="239.9" r="2.95"/>
<circle cx="944.1" cy="231.9" r="2.95"/>
<circle cx="946.1" cy="238.6" r="2.95"/>
<circle cx="948.1" cy="229.9" r="2.95"/>
<circle cx="950.1" cy="228.7" r="2.95"/>
<circle cx="952.3" cy="231.2" r="2.95"/>
<circle cx="954.5" cy="232.4" r="2.95"/>
<circle cx="956.5" cy="231.2" r="2.95"/>
<circle cx="958.8" cy="232.4" r="2.95"/>
<circle cx="961.0" cy="234.8" r="2.95"/>
<circle cx="963.2" cy="230.9" r="2.95"/>
<circle cx="965.2" cy="233.4" r="2.95"/>
<circle cx="967.5" cy="231.7" r="2.95"/>
<circle cx="969.5" cy="232.6" r="2.95"/>
<circle cx="971.5" cy="229.2" r="2.95"/>
<circle cx="973.7" cy="232.1" r="2.95"/>
<circle cx="975.7" cy="230.9" r="2.95"/>
<circle cx="977.9" cy="225.9" r="2.95"/>
<circle cx="979.9" cy="239.6" r="2.95"/>
<circle cx="981.9" cy="230.2" r="2.95"/>
<circle cx="983.9" cy="228.4" r="2.95"/>
<circle cx="985.9" cy="224.2" r="2.95"/>
<circle cx="987.9" cy="229.7" r="2.95"/>
<circle cx="990.2" cy="228.4" r="2.95"/>
<circle cx="992.1" cy="234.6" r="2.95"/>
<circle cx="994.4" cy="227.2" r="2.95"/>
<circle cx="996.4" cy="230.9" r="2.95"/>
<circle cx="998.4" cy="231.7" r="2.95"/>
<circle cx="1000.4" cy="239.6" r="2.95"/>
<circle cx="1002.6" cy="230.9" r="2.95"/>
<circle cx="1004.9" cy="234.6" r="2.95"/>
<circle cx="1006.9" cy="237.1" r="2.95"/>
<circle cx="1009.1" cy="240.9" r="2.95"/>
<circle cx="1011.1" cy="232.1" r="2.95"/>
<circle cx="1013.1" cy="236.6" r="2.95"/>
<circle cx="1015.1" cy="230.9" r="2.95"/>
<circle cx="1017.3" cy="235.1" r="2.95"/>
<circle cx="1019.3" cy="221.7" r="2.95"/>
<circle cx="1021.3" cy="218.4" r="2.95"/>
<circle cx="1023.3" cy="220.2" r="2.95"/>
<circle cx="1025.3" cy="219.7" r="2.95"/>
<circle cx="1027.3" cy="211.0" r="2.95"/>
<circle cx="1029.5" cy="206.7" r="2.95"/>
<circle cx="1031.8" cy="209.2" r="2.95"/>
<circle cx="1033.8" cy="206.0" r="2.95"/>
<circle cx="1035.8" cy="204.7" r="2.95"/>
<circle cx="1038.0" cy="194.8" r="2.95"/>
<circle cx="1040.2" cy="206.7" r="2.95"/>
<circle cx="1042.2" cy="199.8" r="2.95"/>
<circle cx="1044.2" cy="187.8" r="2.95"/>
<circle cx="1046.2" cy="186.8" r="2.95"/>
<circle cx="1048.2" cy="187.3" r="2.95"/>
<circle cx="1050.2" cy="187.3" r="2.95"/>
<circle cx="1052.5" cy="177.3" r="2.95"/>
<circle cx="1054.5" cy="166.9" r="2.95"/>
<circle cx="1056.0" cy="159.9" r="2.95"/>
<circle cx="1057.2" cy="155.4" r="2.95"/>
</g>
<rect x="1056.5" y="157.25" width="152" height="6" fill="#000"/>
</g>
</svg>
<div class="hline" style="left:67px;top:84px;width:1197px"></div>
<div class="vsep" style="left:167px"></div><div class="vsep" style="left:205px"></div><div class="vsep" style="left:244px"></div><div class="vsep" style="left:351px"></div><div class="vsep" style="left:414px"></div><div class="vsep" style="left:461px"></div>
<div class="vsep" style="left:984px"></div><div class="vsep" style="left:1147px"></div><div class="vsep" style="left:1186px"></div><div class="vsep" style="left:1225px"></div>
<div class="abs" style="left:76px;top:236px;width:28.5px;height:21px;border:1px solid #d6d9e0;border-radius:3px;background:#fff"></div>
<svg class="abs" style="left:84px;top:241px" width="12" height="10" viewBox="0 0 12 10"><path d="M2.5 7 L6 3.5 L9.5 7" fill="none" stroke="#131722" stroke-width="1.3"/></svg>
<div class="abs" style="left:1207.6px;top:85px;width:1.2px;height:532px;background:#50545f"></div>
<div class="abs" style="left:67px;top:584.8px;width:1197px;height:1.1px;background:#50545f"></div>
<div class="hline" style="left:67px;top:617px;width:1197px"></div>
<div class="abs" style="left:1147px;top:626px;width:1px;height:22px;background:#e0e3eb"></div>
<div class="t" id="title" style="left:565.20px;top:3.51px;font-size:24.2px;transform:scaleX(0.9424);color:#fff;-webkit-text-stroke:0.25px #fff;">GianTrader</div>
<div class="t" id="tb_sym" style="left:79.70px;top:58.94px;font-size:13.3px;transform:scaleX(0.9285);font-weight:bold;-webkit-text-stroke:0;">FTSEMIB</div>
<div class="t" id="tb_d" style="left:182.60px;top:58.77px;font-size:13.5px;transform:scaleX(0.8821);">D</div>
<div class="t" id="tb_ind" style="left:281.20px;top:58.52px;font-size:13.8px;transform:scaleX(1.0572);">Indicatori</div>
<div class="t" id="tb_cicli" style="left:425.20px;top:58.52px;font-size:13.8px;transform:scaleX(1.1218);">cicli</div>
<div class="t" id="tb_ftse" style="left:1039.40px;top:58.52px;font-size:13.8px;transform:scaleX(0.8947);">FTSE MIB i...</div>
<div class="t" id="lg0a" style="left:76.40px;top:93.30px;font-size:15px;transform:scaleX(0.8769);">FTSEMIB</div>
<div class="t" id="lg0b" style="left:138.30px;top:93.95px;font-size:14px;color:#9aa0ab;">·</div>
<div class="t" id="lg0c" style="left:148.40px;top:93.30px;font-size:15px;transform:scaleX(0.8761);">1D</div>
<div class="t" id="lg0v" style="left:173.80px;top:96.77px;font-size:12.2px;transform:scaleX(0.9756);">32558</div>
<div class="t" id="lg0w" style="left:214.00px;top:96.77px;font-size:12.2px;transform:scaleX(0.9944);">0 (0.00%)</div>
<div class="t" id="lg1" style="left:75.80px;top:119.79px;font-size:12.3px;transform:scaleX(1.0277);">MA 14 close 0</div>
<div class="t" id="lg1v" style="left:163.30px;top:119.79px;font-size:12.3px;transform:scaleX(1.0141);color:#2a7fc9;">32557.8105</div>
<div class="t" id="lg2" style="left:75.80px;top:143.79px;font-size:12.3px;transform:scaleX(1.0277);">MA 55 close 0</div>
<div class="t" id="lg2v" style="left:163.30px;top:143.79px;font-size:12.3px;transform:scaleX(1.0141);color:#e5503c;">32363.7064</div>
<div class="t" id="lg3" style="left:75.80px;top:167.79px;font-size:12.3px;transform:scaleX(1.0338);">MA 5 close 0</div>
<div class="t" id="lg3v" style="left:156.20px;top:167.79px;font-size:12.3px;transform:scaleX(1.0141);color:#d6246c;">32557.8105</div>
<div class="t" id="lg4" style="left:75.80px;top:191.79px;font-size:12.3px;transform:scaleX(1.0273);">MA 120 close 0</div>
<div class="t" id="lg4v" style="left:169.80px;top:191.79px;font-size:12.3px;transform:scaleX(1.0141);">31093.4154</div>
<div class="t" id="lg5" style="left:75.80px;top:215.79px;font-size:12.3px;transform:scaleX(1.0273);">MA 233 close 0</div>
<div class="t" id="lg5v" style="left:169.80px;top:215.79px;font-size:12.3px;transform:scaleX(1.0141);color:#a21fd6;">29662.8167</div>
<div class="t" id="pa0" style="left:1218.20px;top:107.15px;font-size:14px;transform:scaleX(0.9401);">34000</div>
<div class="t" id="pa1" style="left:1218.20px;top:171.65px;font-size:14px;transform:scaleX(0.9401);">32000</div>
<div class="t" id="pa2" style="left:1218.20px;top:236.15px;font-size:14px;transform:scaleX(0.9401);">30000</div>
<div class="t" id="pa3" style="left:1218.20px;top:300.65px;font-size:14px;transform:scaleX(0.9401);">28000</div>
<div class="t" id="pa4" style="left:1218.20px;top:365.15px;font-size:14px;transform:scaleX(0.9401);">26000</div>
<div class="t" id="pa5" style="left:1218.20px;top:429.65px;font-size:14px;transform:scaleX(0.9401);">24000</div>
<div class="t" id="pa6" style="left:1218.20px;top:494.15px;font-size:14px;transform:scaleX(0.9401);">22000</div>
<div class="t" id="pa7" style="left:1218.20px;top:558.65px;font-size:14px;transform:scaleX(0.9401);">20000</div>
<div class="abs" style="left:1209px;top:127px;width:55px;height:22px;background:#4c525e"></div>
<div class="t" id="pacur" style="left:1218.20px;top:130.75px;font-size:14px;transform:scaleX(0.9401);color:#fff;">33221</div>
<div class="t" id="tx1" style="left:162.55px;top:595.33px;font-size:13.2px;transform:scaleX(0.9489);">Lug</div>
<div class="t" id="tx2" style="left:254.20px;top:595.33px;font-size:13.2px;transform:scaleX(0.9892);">Set</div>
<div class="t" id="tx3" style="left:427.50px;top:595.33px;font-size:13.2px;transform:scaleX(1.0488);font-weight:bold;-webkit-text-stroke:0;">2023</div>
<div class="t" id="tx4" style="left:565.60px;top:595.33px;font-size:13.2px;transform:scaleX(1.0223);">Apr</div>
<div class="t" id="tx5" style="left:700.75px;top:595.33px;font-size:13.2px;transform:scaleX(0.9671);">Lug</div>
<div class="t" id="tx6" style="left:792.60px;top:595.33px;font-size:13.2px;transform:scaleX(0.9892);">Set</div>
<div class="t" id="tx7" style="left:961.60px;top:595.33px;font-size:13.2px;transform:scaleX(1.0693);font-weight:bold;-webkit-text-stroke:0;">2024</div>
<div class="t" id="tx8" style="left:1099.60px;top:595.33px;font-size:13.2px;transform:scaleX(1.0223);">Apr</div>
<div class="abs" style="left:1193px;top:592px;width:14.6px;height:22px;overflow:hidden"><div class="t" id="tx10" style="left:0.50px;top:3.33px;font-size:13.2px;transform:scaleX(1.0223);">Giu</div></div>
<div class="abs" style="left:1108px;top:586px;width:76px;height:26.8px;background:#4c525e"></div>
<div class="abs" style="left:1145.5px;top:586px;width:1.2px;height:4.5px;background:#e8eaee"></div>
<div class="t" id="tx9" style="left:1115.40px;top:593.33px;font-size:13.2px;transform:scaleX(1.0468);color:#fff;">24 Apr '24</div>
<div class="abs" style="left:172.1px;top:585px;width:1.2px;height:4.2px;background:#50545f"></div>
<div class="abs" style="left:263.4px;top:585px;width:1.2px;height:4.2px;background:#50545f"></div>
<div class="abs" style="left:442.1px;top:585px;width:1.2px;height:4.2px;background:#50545f"></div>
<div class="abs" style="left:574.8px;top:585px;width:1.2px;height:4.2px;background:#50545f"></div>
<div class="abs" style="left:710.7px;top:585px;width:1.2px;height:4.2px;background:#50545f"></div>
<div class="abs" style="left:801.9px;top:585px;width:1.2px;height:4.2px;background:#50545f"></div>
<div class="abs" style="left:976.6px;top:585px;width:1.2px;height:4.2px;background:#50545f"></div>
<div class="abs" style="left:1109.8px;top:585px;width:1.2px;height:4.2px;background:#50545f"></div>
<div class="abs" style="left:1203.0px;top:585px;width:1.2px;height:4.2px;background:#50545f"></div>
<div class="t" id="bb1" style="left:83.40px;top:630.16px;font-size:13.4px;transform:scaleX(1.0102);">Range data</div>
<div class="t" id="bb2" style="left:1036.20px;top:630.16px;font-size:13.4px;transform:scaleX(1.0333);">07:52:11 (UTC)</div>
<div class="t" id="bb3" style="left:1164.60px;top:630.16px;font-size:13.4px;transform:scaleX(1.0743);">%</div>
<div class="t" id="bb4" style="left:1192.30px;top:630.16px;font-size:13.4px;transform:scaleX(1.0233);">log</div>
<div class="t" id="bb5" style="left:1224.90px;top:630.16px;font-size:13.4px;transform:scaleX(1.0774);color:#3a9fd6;">auto</div>
<div id="bottomshade" class="abs"></div>
<svg class="abs" style="left:0;top:45px" width="67" height="612" viewBox="0 45 67 612" fill="none" stroke="#131722" stroke-width="1.1" stroke-linecap="round" stroke-linejoin="round">
<!-- crosshair -->
<g stroke="#2f9bd4" stroke-width="1.3" stroke-linecap="butt"><path d="M26.3 70.2H33.3M41.8 70.2H48.8M37.5 59V66M37.5 74.3V82"/></g>
<!-- trend line -->
<circle cx="28.6" cy="114.8" r="2.1"/><circle cx="46" cy="97.2" r="2.1"/><path d="M30.2 113.2L44.4 98.8"/>
<!-- pitchfork -->
<circle cx="28.3" cy="139.9" r="1.9"/><circle cx="28.3" cy="150.8" r="1.9"/><circle cx="39.6" cy="150.8" r="1.9"/>
<path d="M29.7 138.5L36.5 131.7M29.7 141.3L38.2 149.4M29.7 149.4L42.4 137.1M41 149.4L47.6 142.6"/>
<!-- brush -->
<path d="M25.8 187L31.2 178.8C32.5 176.8 35.4 176 37.6 177.4C40.3 179 40.9 182 39.6 184.2C38.5 186 36.6 187 34.6 187Z"/>
<path d="M41.9 171.3C40.1 171.7 39.1 173.1 39.5 174.7C39.9 176.4 41.5 177.5 43.2 176.9L50.3 171.4"/>
<!-- text tool icon -->
<path d="M31.2 208.8V206H43.9V208.8M37.55 206V223.6M35.2 223.6H39.9" stroke-linecap="butt" stroke-width="1.15"/>
<!-- pattern -->
<circle cx="31.2" cy="242.4" r="1.9"/><circle cx="43.4" cy="243" r="1.9"/><circle cx="35.6" cy="249.4" r="1.9"/><circle cx="28.2" cy="259" r="1.9"/><circle cx="46.5" cy="256.6" r="1.9"/>
<path d="M30.6 244.3L28.7 257.1M32.4 243.9L34.6 247.8M37.2 248.3L42 244.2M44 244.9L45.9 254.7M37.3 250.4L44.8 255.7M34.4 250.9L29.5 257.6"/>
<!-- forecast -->
<circle cx="27.4" cy="278.3" r="1.9"/><circle cx="27.4" cy="289.5" r="1.9"/><circle cx="47.6" cy="289.5" r="1.9"/><circle cx="27.4" cy="296.7" r="1.9"/>
<path d="M29.4 278.3H47.8M29.4 289.5H45.6M29.4 296.7H47.8"/>
<path d="M37.6 281.8V293.3M35.8 283.6L37.6 281.6L39.4 283.6M35.8 291.4L37.6 293.4L39.4 291.4"/>
<!-- arrow up -->
<path d="M37.1 329.2V320M30.8 324.2L37.1 318.2L43.4 324.2" stroke-width="3.5" stroke-linecap="round" stroke-linejoin="miter"/>
<!-- ruler -->
<path d="M25.5 378.2L43.6 360.3Q44.2 359.8 44.8 360.4L48.6 364.4Q49.1 365 48.5 365.6L30.4 383.3Q29.8 383.8 29.2 383.2L25.4 379.3Q24.9 378.7 25.5 378.2Z"/>
<path d="M29.1 376.4L30.3 377.6M32.3 373.3L34 375M35.5 370.2L36.7 371.4M38.4 367.2L40.1 368.9M41.5 364.1L42.6 365.2"/>
<!-- zoom -->
<circle cx="35.5" cy="406.4" r="8.2"/><path d="M41.4 412.4L44.6 415.6M32.3 406.4H38.7M35.5 403.2V409.6"/>
<!-- magnet -->
<path d="M29.6 465.5V455.5C29.6 450.7 33 447.6 37.3 447.6C41.6 447.6 45 450.7 45 455.5V465.5H40.3V455.6C40.3 453.6 39 452.4 37.3 452.4C35.6 452.4 34.3 453.6 34.3 455.6V465.5Z"/>
<path d="M29.6 461.7H34.3M40.3 461.7H45"/>
<!-- pencil lock -->
<path d="M26.4 496.7L27 493.8L38 482.6L42.3 486.6L31.2 497.6ZM27 493.8L31.2 497.6M29.2 495.3L40 484.5M36.3 484.3L40.6 488.3"/>
<rect x="38.5" y="496.5" width="8.3" height="6.3" rx="0.8" fill="#fff"/><path d="M40.9 496.4V493.7C40.9 492.1 41.9 491.3 43.1 491.3C44.3 491.3 45.2 492.1 45.2 493.5"/><path d="M42.6 498.9V500.3" stroke-width="1.3"/>
<!-- open lock -->
<rect x="29.5" y="527.2" width="15" height="11.8" rx="1.6"/><path d="M32.6 527V523.2C32.6 520.6 34.5 518.9 36.9 518.9C39 518.9 40.6 520.1 41.2 522"/><path d="M37 532V534.4" stroke-width="1.8"/>
<!-- eye -->
<path d="M27.5 565.7C30 561.3 33.3 559 37.2 559C41.1 559 44.4 561.3 46.9 565.7C44.4 570.1 41.1 572.4 37.2 572.4C33.3 572.4 30 570.1 27.5 565.7Z"/><circle cx="37.2" cy="565.7" r="2.7" fill="#131722"/>
<!-- trash -->
<path d="M30 608.3H43.5M33.5 608.2V606.2H40V608.2M31 608.5L31.8 623.2C31.9 624.3 32.6 624.9 33.6 624.9H39.9C40.9 624.9 41.6 624.3 41.7 623.2L42.5 608.5M34.3 611.5V621.8M36.75 611.5V621.8M39.2 611.5V621.8"/>
<path d="M32.5 606.3H41" stroke-width="1.8"/>
<!-- separators -->
<g stroke="#e6e8ee" stroke-width="1" stroke-linecap="butt"><path d="M11 347.5H62.5M11 432.5H62.5M11 590.5H62.5"/></g>
<!-- collapse tab -->
<rect x="57.6" y="572" width="7.6" height="25" rx="2.5" fill="#fff" stroke="#d3d6de" stroke-width="1"/>
<path d="M62.4 582.3L60.3 584.6L62.4 586.9" stroke="#9599a3" stroke-width="1"/>
</svg>
<!-- top toolbar icons -->
<svg class="abs" style="left:200px;top:46px" width="260" height="38" viewBox="200 46 260 38" fill="none" stroke="#131722" stroke-width="1.2" stroke-linecap="round" stroke-linejoin="round">
<path d="M216.3 67.8L221.5 63.8L225.8 66.1L231 61.4L235.8 58.7"/>
<path d="M268.5 58.6C268 57 266.8 56.2 265.6 56.2C264.2 56.2 263.4 57.2 263.4 58.8V69.5C263.4 71.5 262.4 72.5 260.8 72.5C259.4 72.5 258.4 71.8 258.1 70.7M259.9 62.4H266.7M265.7 68.3L270.7 72.9M270.7 68.3L265.7 72.9" stroke-width="1.15"/>
<path d="M362 64.2H369.8C373 64.2 375 66.2 375 69.6M365.6 60.5L361.9 64.2L365.6 67.9"/>
<path d="M403 64.2H395.2C392 64.2 390 66.2 390 69.6M399.4 60.5L403.1 64.2L399.4 67.9" stroke="#c9ccd3"/>
</svg>
<svg class="abs" style="left:985px;top:46px" width="279" height="38" viewBox="985 46 279 38" fill="none" stroke="#131722" stroke-width="1.1" stroke-linecap="round" stroke-linejoin="round">
<path d="M997 72.3H1012.3C1014.6 72.3 1016.2 70.6 1016.2 68.5C1016.2 66.5 1014.8 65 1012.9 64.7C1012.7 60.5 1009.4 57.4 1005.3 57.4C1002 57.4 999.2 59.5 998.2 62.5C995.2 62.7 992.8 64.9 992.8 67.8C992.8 70.4 994.6 72.3 997 72.3Z" stroke-dasharray="3.3 1.9" stroke-linecap="butt" stroke-width="1.1"/>
<path d="M1027.4 58.6L1029.3 62.8L1033.9 63.3L1030.5 66.4L1031.5 70.9L1027.4 68.6L1023.3 70.9L1024.3 66.4L1020.9 63.3L1025.5 62.8Z" fill="url(#starg)" stroke="#eda41c" stroke-width="0.6"/>
<defs><linearGradient id="starg" x1="0" y1="0" x2="0.6" y2="1"><stop offset="0" stop-color="#ffe57a"/><stop offset="0.55" stop-color="#fbc22c"/><stop offset="1" stop-color="#f2a21a"/></linearGradient></defs>
<path d="M1133.2 63L1136.8 66.6L1140.4 63"/>
<!-- gear -->
<g transform="translate(1167.1 64.9)"><circle r="2.8"/><path d="M-1.70 -7.10L-1.63 -9.76A9.9 9.9 0 0 1 1.63 -9.76L1.70 -7.10A7.3 7.3 0 0 1 3.81 -6.22L5.75 -8.06A9.9 9.9 0 0 1 8.06 -5.75L6.22 -3.81A7.3 7.3 0 0 1 7.10 -1.70L9.76 -1.63A9.9 9.9 0 0 1 9.76 1.63L7.10 1.70A7.3 7.3 0 0 1 6.22 3.81L8.06 5.75A9.9 9.9 0 0 1 5.75 8.06L3.81 6.22A7.3 7.3 0 0 1 1.70 7.10L1.63 9.76A9.9 9.9 0 0 1 -1.63 9.76L-1.70 7.10A7.3 7.3 0 0 1 -3.81 6.22L-5.75 8.06A9.9 9.9 0 0 1 -8.06 5.75L-6.22 3.81A7.3 7.3 0 0 1 -7.10 1.70L-9.76 1.63A9.9 9.9 0 0 1 -9.76 -1.63L-7.10 -1.70A7.3 7.3 0 0 1 -6.22 -3.81L-8.06 -5.75A9.9 9.9 0 0 1 -5.75 -8.06L-3.81 -6.22A7.3 7.3 0 0 1 -1.70 -7.10Z"/></g>
<!-- fullscreen -->
<path d="M1198.2 62V57.8H1202.4M1198.4 58L1203.4 63M1209.6 57.8H1213.8V62M1213.6 58L1208.6 63M1198.2 68.2V72.4H1202.4M1198.4 72.2L1203.4 67.2M1213.8 68.2V72.4H1209.6M1213.6 72.2L1208.6 67.2"/>
<!-- camera -->
<path d="M1236.5 59.6H1239.5L1241.2 57H1247.8L1249.5 59.6H1252.3C1253.6 59.6 1254.5 60.5 1254.5 61.8V70.2C1254.5 71.5 1253.6 72.4 1252.3 72.4H1236.5C1235.2 72.4 1234.3 71.5 1234.3 70.2V61.8C1234.3 60.5 1235.2 59.6 1236.5 59.6Z"/><circle cx="1244.4" cy="65.8" r="3.7"/>
</svg>
<!-- range data chevron -->
<svg class="abs" style="left:157px;top:631px" width="12" height="10" viewBox="0 0 12 10"><path d="M2.2 3.2L5.8 6.6L9.4 3.2" fill="none" stroke="#131722" stroke-width="1.2"/></svg>
<!-- scroll-to-end button -->
<div class="abs" style="left:1163.6px;top:523.8px;width:29px;height:29px;border-radius:14.5px;background:#fff;box-shadow:0 1px 3px rgba(0,0,0,0.14)"></div>
<svg class="abs" style="left:1166px;top:526px" width="24" height="24" viewBox="1166 526 24 24"><path d="M1173.4 535.6L1176 538.3L1173.4 541.1M1177.2 532.8L1182.6 538.3L1177.2 543.9" fill="none" stroke="#4b4d55" stroke-width="1.9"/></svg>
<!-- settings sun icon in axis corner -->
<svg class="abs" style="left:1226px;top:592px" width="20" height="20" viewBox="0 0 20 20" fill="none" stroke="#131722" stroke-width="1.2"><circle cx="10" cy="10" r="4.6"/><path d="M10 2.6V4.4M10 15.6V17.4M2.6 10H4.4M15.6 10H17.4M4.8 4.8L6 6M14 14L15.2 15.2M4.8 15.2L6 14M14 6L15.2 4.8"/></svg>
<!-- axis ticks -->
<svg class="abs" style="left:1208px;top:85px" width="8" height="500" viewBox="0 85 8 500" stroke="#9598a1" stroke-width="1"><path d="M0.5 113.7H5M0.5 178.2H5M0.5 242.7H5M0.5 307.2H5M0.5 371.7H5M0.5 436.2H5M0.5 500.7H5M0.5 565.2H5"/></svg>

</body></html>
